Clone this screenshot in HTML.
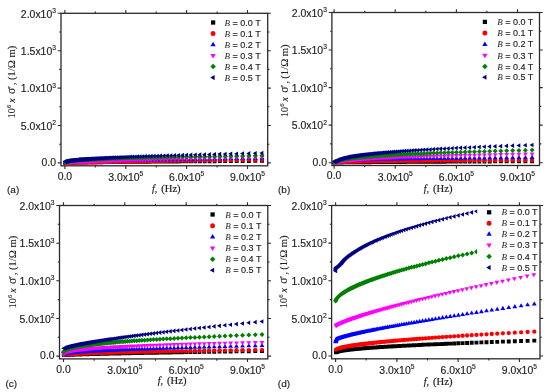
<!DOCTYPE html>
<html><head><meta charset="utf-8"><style>
html,body{margin:0;padding:0;background:#fff;}
svg{display:block;}
body{will-change:transform;}
</style></head><body>
<svg width="550" height="392" viewBox="0 0 550 392">
<rect width="550" height="392" fill="#fff"/>
<clipPath id="cpa"><rect x="61.0" y="13.3" width="206.7" height="152.5"/></clipPath>
<g clip-path="url(#cpa)"><path fill="#000000" d="M63.33 161.13h3.9v3.9h-3.9zM63.78 161.08h3.9v3.9h-3.9zM64.25 161.04h3.9v3.9h-3.9zM64.72 161.01h3.9v3.9h-3.9zM65.2 160.98h3.9v3.9h-3.9zM65.72 160.96h3.9v3.9h-3.9zM66.24 160.93h3.9v3.9h-3.9zM66.72 160.91h3.9v3.9h-3.9zM67.28 160.89h3.9v3.9h-3.9zM67.75 160.87h3.9v3.9h-3.9zM68.27 160.85h3.9v3.9h-3.9zM68.85 160.83h3.9v3.9h-3.9zM69.49 160.81h3.9v3.9h-3.9zM69.96 160.8h3.9v3.9h-3.9zM70.46 160.78h3.9v3.9h-3.9zM70.99 160.77h3.9v3.9h-3.9zM71.56 160.75h3.9v3.9h-3.9zM72.18 160.73h3.9v3.9h-3.9zM72.83 160.72h3.9v3.9h-3.9zM73.54 160.7h3.9v3.9h-3.9zM74.29 160.68h3.9v3.9h-3.9zM75.1 160.66h3.9v3.9h-3.9zM75.96 160.64h3.9v3.9h-3.9zM76.42 160.63h3.9v3.9h-3.9zM76.89 160.62h3.9v3.9h-3.9zM77.38 160.61h3.9v3.9h-3.9zM77.88 160.6h3.9v3.9h-3.9zM78.41 160.59h3.9v3.9h-3.9zM78.95 160.57h3.9v3.9h-3.9zM79.51 160.56h3.9v3.9h-3.9zM80.09 160.55h3.9v3.9h-3.9zM80.69 160.54h3.9v3.9h-3.9zM81.31 160.53h3.9v3.9h-3.9zM81.95 160.52h3.9v3.9h-3.9zM82.61 160.5h3.9v3.9h-3.9zM83.3 160.49h3.9v3.9h-3.9zM84.02 160.48h3.9v3.9h-3.9zM84.75 160.47h3.9v3.9h-3.9zM85.52 160.45h3.9v3.9h-3.9zM86.31 160.44h3.9v3.9h-3.9zM87.12 160.42h3.9v3.9h-3.9zM87.97 160.41h3.9v3.9h-3.9zM88.84 160.4h3.9v3.9h-3.9zM89.75 160.38h3.9v3.9h-3.9zM90.69 160.37h3.9v3.9h-3.9zM91.66 160.35h3.9v3.9h-3.9zM92.66 160.34h3.9v3.9h-3.9zM93.7 160.32h3.9v3.9h-3.9zM94.78 160.31h3.9v3.9h-3.9zM95.89 160.29h3.9v3.9h-3.9zM97.05 160.27h3.9v3.9h-3.9zM98.24 160.26h3.9v3.9h-3.9zM99.48 160.24h3.9v3.9h-3.9zM100.76 160.22h3.9v3.9h-3.9zM102.08 160.21h3.9v3.9h-3.9zM103.45 160.19h3.9v3.9h-3.9zM104.87 160.17h3.9v3.9h-3.9zM106.33 160.15h3.9v3.9h-3.9zM107.85 160.13h3.9v3.9h-3.9zM109.42 160.11h3.9v3.9h-3.9zM111.05 160.09h3.9v3.9h-3.9zM112.73 160.07h3.9v3.9h-3.9zM114.47 160.05h3.9v3.9h-3.9zM116.28 160.03h3.9v3.9h-3.9zM118.14 160.01h3.9v3.9h-3.9zM120.08 159.99h3.9v3.9h-3.9zM122.08 159.97h3.9v3.9h-3.9zM124.14 159.95h3.9v3.9h-3.9zM126.29 159.93h3.9v3.9h-3.9zM128.5 159.9h3.9v3.9h-3.9zM130.8 159.88h3.9v3.9h-3.9zM133.17 159.86h3.9v3.9h-3.9zM135.63 159.83h3.9v3.9h-3.9zM138.17 159.81h3.9v3.9h-3.9zM140.81 159.78h3.9v3.9h-3.9zM143.53 159.76h3.9v3.9h-3.9zM146.35 159.73h3.9v3.9h-3.9zM149.27 159.71h3.9v3.9h-3.9zM152.29 159.68h3.9v3.9h-3.9zM155.42 159.65h3.9v3.9h-3.9zM158.66 159.63h3.9v3.9h-3.9zM162.01 159.6h3.9v3.9h-3.9zM165.47 159.57h3.9v3.9h-3.9zM169.06 159.54h3.9v3.9h-3.9zM172.77 159.51h3.9v3.9h-3.9zM176.62 159.48h3.9v3.9h-3.9zM180.6 159.45h3.9v3.9h-3.9zM184.71 159.42h3.9v3.9h-3.9zM188.98 159.39h3.9v3.9h-3.9zM193.39 159.36h3.9v3.9h-3.9zM197.95 159.33h3.9v3.9h-3.9zM202.68 159.29h3.9v3.9h-3.9zM207.57 159.26h3.9v3.9h-3.9zM212.63 159.23h3.9v3.9h-3.9zM217.87 159.19h3.9v3.9h-3.9zM223.29 159.16h3.9v3.9h-3.9zM228.9 159.12h3.9v3.9h-3.9zM234.71 159.08h3.9v3.9h-3.9zM240.72 159.05h3.9v3.9h-3.9zM246.94 159.01h3.9v3.9h-3.9zM253.38 158.97h3.9v3.9h-3.9zM260.05 158.93h3.9v3.9h-3.9z"/>
<path fill="#ff0000" d="M63.13 163.04a2.15 2.15 0 1 0 4.3 0a2.15 2.15 0 1 0 -4.3 0zM63.58 163.02a2.15 2.15 0 1 0 4.3 0a2.15 2.15 0 1 0 -4.3 0zM64.05 163a2.15 2.15 0 1 0 4.3 0a2.15 2.15 0 1 0 -4.3 0zM64.52 162.98a2.15 2.15 0 1 0 4.3 0a2.15 2.15 0 1 0 -4.3 0zM65 162.96a2.15 2.15 0 1 0 4.3 0a2.15 2.15 0 1 0 -4.3 0zM65.52 162.94a2.15 2.15 0 1 0 4.3 0a2.15 2.15 0 1 0 -4.3 0zM66.04 162.92a2.15 2.15 0 1 0 4.3 0a2.15 2.15 0 1 0 -4.3 0zM66.52 162.9a2.15 2.15 0 1 0 4.3 0a2.15 2.15 0 1 0 -4.3 0zM67.08 162.88a2.15 2.15 0 1 0 4.3 0a2.15 2.15 0 1 0 -4.3 0zM67.55 162.87a2.15 2.15 0 1 0 4.3 0a2.15 2.15 0 1 0 -4.3 0zM68.07 162.85a2.15 2.15 0 1 0 4.3 0a2.15 2.15 0 1 0 -4.3 0zM68.65 162.84a2.15 2.15 0 1 0 4.3 0a2.15 2.15 0 1 0 -4.3 0zM69.29 162.82a2.15 2.15 0 1 0 4.3 0a2.15 2.15 0 1 0 -4.3 0zM69.76 162.8a2.15 2.15 0 1 0 4.3 0a2.15 2.15 0 1 0 -4.3 0zM70.26 162.79a2.15 2.15 0 1 0 4.3 0a2.15 2.15 0 1 0 -4.3 0zM70.79 162.77a2.15 2.15 0 1 0 4.3 0a2.15 2.15 0 1 0 -4.3 0zM71.36 162.76a2.15 2.15 0 1 0 4.3 0a2.15 2.15 0 1 0 -4.3 0zM71.98 162.74a2.15 2.15 0 1 0 4.3 0a2.15 2.15 0 1 0 -4.3 0zM72.63 162.72a2.15 2.15 0 1 0 4.3 0a2.15 2.15 0 1 0 -4.3 0zM73.34 162.71a2.15 2.15 0 1 0 4.3 0a2.15 2.15 0 1 0 -4.3 0zM74.09 162.69a2.15 2.15 0 1 0 4.3 0a2.15 2.15 0 1 0 -4.3 0zM74.9 162.67a2.15 2.15 0 1 0 4.3 0a2.15 2.15 0 1 0 -4.3 0zM75.76 162.64a2.15 2.15 0 1 0 4.3 0a2.15 2.15 0 1 0 -4.3 0zM76.22 162.63a2.15 2.15 0 1 0 4.3 0a2.15 2.15 0 1 0 -4.3 0zM76.69 162.62a2.15 2.15 0 1 0 4.3 0a2.15 2.15 0 1 0 -4.3 0zM77.18 162.61a2.15 2.15 0 1 0 4.3 0a2.15 2.15 0 1 0 -4.3 0zM77.68 162.6a2.15 2.15 0 1 0 4.3 0a2.15 2.15 0 1 0 -4.3 0zM78.21 162.58a2.15 2.15 0 1 0 4.3 0a2.15 2.15 0 1 0 -4.3 0zM78.75 162.57a2.15 2.15 0 1 0 4.3 0a2.15 2.15 0 1 0 -4.3 0zM79.31 162.56a2.15 2.15 0 1 0 4.3 0a2.15 2.15 0 1 0 -4.3 0zM79.89 162.55a2.15 2.15 0 1 0 4.3 0a2.15 2.15 0 1 0 -4.3 0zM80.49 162.53a2.15 2.15 0 1 0 4.3 0a2.15 2.15 0 1 0 -4.3 0zM81.11 162.52a2.15 2.15 0 1 0 4.3 0a2.15 2.15 0 1 0 -4.3 0zM81.75 162.5a2.15 2.15 0 1 0 4.3 0a2.15 2.15 0 1 0 -4.3 0zM82.41 162.49a2.15 2.15 0 1 0 4.3 0a2.15 2.15 0 1 0 -4.3 0zM83.1 162.47a2.15 2.15 0 1 0 4.3 0a2.15 2.15 0 1 0 -4.3 0zM83.82 162.46a2.15 2.15 0 1 0 4.3 0a2.15 2.15 0 1 0 -4.3 0zM84.55 162.44a2.15 2.15 0 1 0 4.3 0a2.15 2.15 0 1 0 -4.3 0zM85.32 162.42a2.15 2.15 0 1 0 4.3 0a2.15 2.15 0 1 0 -4.3 0zM86.11 162.41a2.15 2.15 0 1 0 4.3 0a2.15 2.15 0 1 0 -4.3 0zM86.92 162.39a2.15 2.15 0 1 0 4.3 0a2.15 2.15 0 1 0 -4.3 0zM87.77 162.37a2.15 2.15 0 1 0 4.3 0a2.15 2.15 0 1 0 -4.3 0zM88.64 162.35a2.15 2.15 0 1 0 4.3 0a2.15 2.15 0 1 0 -4.3 0zM89.55 162.34a2.15 2.15 0 1 0 4.3 0a2.15 2.15 0 1 0 -4.3 0zM90.49 162.32a2.15 2.15 0 1 0 4.3 0a2.15 2.15 0 1 0 -4.3 0zM91.46 162.3a2.15 2.15 0 1 0 4.3 0a2.15 2.15 0 1 0 -4.3 0zM92.46 162.28a2.15 2.15 0 1 0 4.3 0a2.15 2.15 0 1 0 -4.3 0zM93.5 162.26a2.15 2.15 0 1 0 4.3 0a2.15 2.15 0 1 0 -4.3 0zM94.58 162.23a2.15 2.15 0 1 0 4.3 0a2.15 2.15 0 1 0 -4.3 0zM95.69 162.21a2.15 2.15 0 1 0 4.3 0a2.15 2.15 0 1 0 -4.3 0zM96.85 162.19a2.15 2.15 0 1 0 4.3 0a2.15 2.15 0 1 0 -4.3 0zM98.04 162.17a2.15 2.15 0 1 0 4.3 0a2.15 2.15 0 1 0 -4.3 0zM99.28 162.14a2.15 2.15 0 1 0 4.3 0a2.15 2.15 0 1 0 -4.3 0zM100.56 162.12a2.15 2.15 0 1 0 4.3 0a2.15 2.15 0 1 0 -4.3 0zM101.88 162.09a2.15 2.15 0 1 0 4.3 0a2.15 2.15 0 1 0 -4.3 0zM103.25 162.07a2.15 2.15 0 1 0 4.3 0a2.15 2.15 0 1 0 -4.3 0zM104.67 162.04a2.15 2.15 0 1 0 4.3 0a2.15 2.15 0 1 0 -4.3 0zM106.13 162.02a2.15 2.15 0 1 0 4.3 0a2.15 2.15 0 1 0 -4.3 0zM107.65 161.99a2.15 2.15 0 1 0 4.3 0a2.15 2.15 0 1 0 -4.3 0zM109.22 161.96a2.15 2.15 0 1 0 4.3 0a2.15 2.15 0 1 0 -4.3 0zM110.85 161.93a2.15 2.15 0 1 0 4.3 0a2.15 2.15 0 1 0 -4.3 0zM112.53 161.9a2.15 2.15 0 1 0 4.3 0a2.15 2.15 0 1 0 -4.3 0zM114.27 161.87a2.15 2.15 0 1 0 4.3 0a2.15 2.15 0 1 0 -4.3 0zM116.08 161.84a2.15 2.15 0 1 0 4.3 0a2.15 2.15 0 1 0 -4.3 0zM117.94 161.81a2.15 2.15 0 1 0 4.3 0a2.15 2.15 0 1 0 -4.3 0zM119.88 161.77a2.15 2.15 0 1 0 4.3 0a2.15 2.15 0 1 0 -4.3 0zM121.88 161.74a2.15 2.15 0 1 0 4.3 0a2.15 2.15 0 1 0 -4.3 0zM123.94 161.71a2.15 2.15 0 1 0 4.3 0a2.15 2.15 0 1 0 -4.3 0zM126.09 161.67a2.15 2.15 0 1 0 4.3 0a2.15 2.15 0 1 0 -4.3 0zM128.3 161.63a2.15 2.15 0 1 0 4.3 0a2.15 2.15 0 1 0 -4.3 0zM130.6 161.6a2.15 2.15 0 1 0 4.3 0a2.15 2.15 0 1 0 -4.3 0zM132.97 161.56a2.15 2.15 0 1 0 4.3 0a2.15 2.15 0 1 0 -4.3 0zM135.43 161.52a2.15 2.15 0 1 0 4.3 0a2.15 2.15 0 1 0 -4.3 0zM137.97 161.48a2.15 2.15 0 1 0 4.3 0a2.15 2.15 0 1 0 -4.3 0zM140.61 161.44a2.15 2.15 0 1 0 4.3 0a2.15 2.15 0 1 0 -4.3 0zM143.33 161.39a2.15 2.15 0 1 0 4.3 0a2.15 2.15 0 1 0 -4.3 0zM146.15 161.35a2.15 2.15 0 1 0 4.3 0a2.15 2.15 0 1 0 -4.3 0zM149.07 161.31a2.15 2.15 0 1 0 4.3 0a2.15 2.15 0 1 0 -4.3 0zM152.09 161.26a2.15 2.15 0 1 0 4.3 0a2.15 2.15 0 1 0 -4.3 0zM155.22 161.21a2.15 2.15 0 1 0 4.3 0a2.15 2.15 0 1 0 -4.3 0zM158.46 161.16a2.15 2.15 0 1 0 4.3 0a2.15 2.15 0 1 0 -4.3 0zM161.81 161.11a2.15 2.15 0 1 0 4.3 0a2.15 2.15 0 1 0 -4.3 0zM165.27 161.06a2.15 2.15 0 1 0 4.3 0a2.15 2.15 0 1 0 -4.3 0zM168.86 161.01a2.15 2.15 0 1 0 4.3 0a2.15 2.15 0 1 0 -4.3 0zM172.57 160.96a2.15 2.15 0 1 0 4.3 0a2.15 2.15 0 1 0 -4.3 0zM176.42 160.9a2.15 2.15 0 1 0 4.3 0a2.15 2.15 0 1 0 -4.3 0zM180.4 160.84a2.15 2.15 0 1 0 4.3 0a2.15 2.15 0 1 0 -4.3 0zM184.51 160.79a2.15 2.15 0 1 0 4.3 0a2.15 2.15 0 1 0 -4.3 0zM188.78 160.73a2.15 2.15 0 1 0 4.3 0a2.15 2.15 0 1 0 -4.3 0zM193.19 160.67a2.15 2.15 0 1 0 4.3 0a2.15 2.15 0 1 0 -4.3 0zM197.75 160.6a2.15 2.15 0 1 0 4.3 0a2.15 2.15 0 1 0 -4.3 0zM202.48 160.54a2.15 2.15 0 1 0 4.3 0a2.15 2.15 0 1 0 -4.3 0zM207.37 160.47a2.15 2.15 0 1 0 4.3 0a2.15 2.15 0 1 0 -4.3 0zM212.43 160.4a2.15 2.15 0 1 0 4.3 0a2.15 2.15 0 1 0 -4.3 0zM217.67 160.33a2.15 2.15 0 1 0 4.3 0a2.15 2.15 0 1 0 -4.3 0zM223.09 160.26a2.15 2.15 0 1 0 4.3 0a2.15 2.15 0 1 0 -4.3 0zM228.7 160.19a2.15 2.15 0 1 0 4.3 0a2.15 2.15 0 1 0 -4.3 0zM234.51 160.11a2.15 2.15 0 1 0 4.3 0a2.15 2.15 0 1 0 -4.3 0zM240.52 160.04a2.15 2.15 0 1 0 4.3 0a2.15 2.15 0 1 0 -4.3 0zM246.74 159.96a2.15 2.15 0 1 0 4.3 0a2.15 2.15 0 1 0 -4.3 0zM253.18 159.88a2.15 2.15 0 1 0 4.3 0a2.15 2.15 0 1 0 -4.3 0zM259.85 159.79a2.15 2.15 0 1 0 4.3 0a2.15 2.15 0 1 0 -4.3 0z"/>
<path fill="#0000ff" d="M65.28 159.94l2.4 4.1h-4.8zM65.73 159.9l2.4 4.1h-4.8zM66.2 159.86l2.4 4.1h-4.8zM66.67 159.83l2.4 4.1h-4.8zM67.15 159.8l2.4 4.1h-4.8zM67.67 159.77l2.4 4.1h-4.8zM68.19 159.74l2.4 4.1h-4.8zM68.67 159.71l2.4 4.1h-4.8zM69.23 159.69l2.4 4.1h-4.8zM69.7 159.66l2.4 4.1h-4.8zM70.22 159.64l2.4 4.1h-4.8zM70.8 159.61l2.4 4.1h-4.8zM71.44 159.58l2.4 4.1h-4.8zM71.91 159.56l2.4 4.1h-4.8zM72.41 159.54l2.4 4.1h-4.8zM72.94 159.52l2.4 4.1h-4.8zM73.51 159.5l2.4 4.1h-4.8zM74.13 159.47l2.4 4.1h-4.8zM74.78 159.44l2.4 4.1h-4.8zM75.49 159.42l2.4 4.1h-4.8zM76.24 159.39l2.4 4.1h-4.8zM77.05 159.36l2.4 4.1h-4.8zM77.91 159.33l2.4 4.1h-4.8zM78.37 159.31l2.4 4.1h-4.8zM78.84 159.29l2.4 4.1h-4.8zM79.33 159.28l2.4 4.1h-4.8zM79.83 159.26l2.4 4.1h-4.8zM80.36 159.24l2.4 4.1h-4.8zM80.9 159.22l2.4 4.1h-4.8zM81.46 159.2l2.4 4.1h-4.8zM82.04 159.18l2.4 4.1h-4.8zM82.64 159.16l2.4 4.1h-4.8zM83.26 159.14l2.4 4.1h-4.8zM83.9 159.12l2.4 4.1h-4.8zM84.56 159.1l2.4 4.1h-4.8zM85.25 159.08l2.4 4.1h-4.8zM85.97 159.06l2.4 4.1h-4.8zM86.7 159.03l2.4 4.1h-4.8zM87.47 159.01l2.4 4.1h-4.8zM88.26 158.99l2.4 4.1h-4.8zM89.07 158.96l2.4 4.1h-4.8zM89.92 158.94l2.4 4.1h-4.8zM90.79 158.91l2.4 4.1h-4.8zM91.7 158.88l2.4 4.1h-4.8zM92.64 158.86l2.4 4.1h-4.8zM93.61 158.83l2.4 4.1h-4.8zM94.61 158.8l2.4 4.1h-4.8zM95.65 158.77l2.4 4.1h-4.8zM96.73 158.74l2.4 4.1h-4.8zM97.84 158.71l2.4 4.1h-4.8zM99 158.68l2.4 4.1h-4.8zM100.19 158.64l2.4 4.1h-4.8zM101.43 158.61l2.4 4.1h-4.8zM102.71 158.58l2.4 4.1h-4.8zM104.03 158.54l2.4 4.1h-4.8zM105.4 158.51l2.4 4.1h-4.8zM106.82 158.47l2.4 4.1h-4.8zM108.28 158.43l2.4 4.1h-4.8zM109.8 158.39l2.4 4.1h-4.8zM111.37 158.35l2.4 4.1h-4.8zM113 158.31l2.4 4.1h-4.8zM114.68 158.27l2.4 4.1h-4.8zM116.42 158.23l2.4 4.1h-4.8zM118.23 158.19l2.4 4.1h-4.8zM120.09 158.14l2.4 4.1h-4.8zM122.03 158.1l2.4 4.1h-4.8zM124.03 158.05l2.4 4.1h-4.8zM126.09 158l2.4 4.1h-4.8zM128.24 157.95l2.4 4.1h-4.8zM130.45 157.9l2.4 4.1h-4.8zM132.75 157.85l2.4 4.1h-4.8zM135.12 157.8l2.4 4.1h-4.8zM137.58 157.74l2.4 4.1h-4.8zM140.12 157.69l2.4 4.1h-4.8zM142.76 157.63l2.4 4.1h-4.8zM145.48 157.57l2.4 4.1h-4.8zM148.3 157.51l2.4 4.1h-4.8zM151.22 157.45l2.4 4.1h-4.8zM154.24 157.39l2.4 4.1h-4.8zM157.37 157.32l2.4 4.1h-4.8zM160.61 157.26l2.4 4.1h-4.8zM163.96 157.19l2.4 4.1h-4.8zM167.42 157.12l2.4 4.1h-4.8zM171.01 157.05l2.4 4.1h-4.8zM174.72 156.98l2.4 4.1h-4.8zM178.57 156.9l2.4 4.1h-4.8zM182.55 156.83l2.4 4.1h-4.8zM186.66 156.75l2.4 4.1h-4.8zM190.93 156.67l2.4 4.1h-4.8zM195.34 156.59l2.4 4.1h-4.8zM199.9 156.5l2.4 4.1h-4.8zM204.63 156.42l2.4 4.1h-4.8zM209.52 156.33l2.4 4.1h-4.8zM214.58 156.24l2.4 4.1h-4.8zM219.82 156.15l2.4 4.1h-4.8zM225.24 156.05l2.4 4.1h-4.8zM230.85 155.95l2.4 4.1h-4.8zM236.66 155.85l2.4 4.1h-4.8zM242.67 155.75l2.4 4.1h-4.8zM248.89 155.65l2.4 4.1h-4.8zM255.33 155.54l2.4 4.1h-4.8zM262 155.43l2.4 4.1h-4.8z"/>
<path fill="#ff00ff" d="M62.88 160.48h4.8l-2.4 4.1zM63.33 160.46h4.8l-2.4 4.1zM63.8 160.45h4.8l-2.4 4.1zM64.27 160.43h4.8l-2.4 4.1zM64.75 160.41h4.8l-2.4 4.1zM65.27 160.4h4.8l-2.4 4.1zM65.79 160.38h4.8l-2.4 4.1zM66.27 160.37h4.8l-2.4 4.1zM66.83 160.35h4.8l-2.4 4.1zM67.3 160.33h4.8l-2.4 4.1zM67.82 160.32h4.8l-2.4 4.1zM68.4 160.3h4.8l-2.4 4.1zM69.04 160.28h4.8l-2.4 4.1zM69.51 160.27h4.8l-2.4 4.1zM70.01 160.25h4.8l-2.4 4.1zM70.54 160.24h4.8l-2.4 4.1zM71.11 160.22h4.8l-2.4 4.1zM71.73 160.2h4.8l-2.4 4.1zM72.38 160.18h4.8l-2.4 4.1zM73.09 160.16h4.8l-2.4 4.1zM73.84 160.14h4.8l-2.4 4.1zM74.65 160.12h4.8l-2.4 4.1zM75.51 160.09h4.8l-2.4 4.1zM75.97 160.08h4.8l-2.4 4.1zM76.44 160.07h4.8l-2.4 4.1zM76.93 160.05h4.8l-2.4 4.1zM77.43 160.04h4.8l-2.4 4.1zM77.96 160.03h4.8l-2.4 4.1zM78.5 160.01h4.8l-2.4 4.1zM79.06 159.99h4.8l-2.4 4.1zM79.64 159.98h4.8l-2.4 4.1zM80.24 159.96h4.8l-2.4 4.1zM80.86 159.94h4.8l-2.4 4.1zM81.5 159.93h4.8l-2.4 4.1zM82.16 159.91h4.8l-2.4 4.1zM82.85 159.89h4.8l-2.4 4.1zM83.57 159.87h4.8l-2.4 4.1zM84.3 159.85h4.8l-2.4 4.1zM85.07 159.83h4.8l-2.4 4.1zM85.86 159.81h4.8l-2.4 4.1zM86.67 159.79h4.8l-2.4 4.1zM87.52 159.76h4.8l-2.4 4.1zM88.39 159.74h4.8l-2.4 4.1zM89.3 159.72h4.8l-2.4 4.1zM90.24 159.69h4.8l-2.4 4.1zM91.21 159.67h4.8l-2.4 4.1zM92.21 159.64h4.8l-2.4 4.1zM93.25 159.61h4.8l-2.4 4.1zM94.33 159.58h4.8l-2.4 4.1zM95.44 159.55h4.8l-2.4 4.1zM96.6 159.52h4.8l-2.4 4.1zM97.79 159.49h4.8l-2.4 4.1zM99.03 159.46h4.8l-2.4 4.1zM100.31 159.43h4.8l-2.4 4.1zM101.63 159.39h4.8l-2.4 4.1zM103 159.36h4.8l-2.4 4.1zM104.42 159.32h4.8l-2.4 4.1zM105.88 159.28h4.8l-2.4 4.1zM107.4 159.24h4.8l-2.4 4.1zM108.97 159.2h4.8l-2.4 4.1zM110.6 159.16h4.8l-2.4 4.1zM112.28 159.12h4.8l-2.4 4.1zM114.02 159.08h4.8l-2.4 4.1zM115.83 159.03h4.8l-2.4 4.1zM117.69 158.98h4.8l-2.4 4.1zM119.63 158.94h4.8l-2.4 4.1zM121.63 158.88h4.8l-2.4 4.1zM123.69 158.83h4.8l-2.4 4.1zM125.84 158.78h4.8l-2.4 4.1zM128.05 158.73h4.8l-2.4 4.1zM130.35 158.67h4.8l-2.4 4.1zM132.72 158.61h4.8l-2.4 4.1zM135.18 158.55h4.8l-2.4 4.1zM137.72 158.49h4.8l-2.4 4.1zM140.36 158.42h4.8l-2.4 4.1zM143.08 158.36h4.8l-2.4 4.1zM145.9 158.29h4.8l-2.4 4.1zM148.82 158.22h4.8l-2.4 4.1zM151.84 158.14h4.8l-2.4 4.1zM154.97 158.07h4.8l-2.4 4.1zM158.21 157.99h4.8l-2.4 4.1zM161.56 157.91h4.8l-2.4 4.1zM165.02 157.83h4.8l-2.4 4.1zM168.61 157.74h4.8l-2.4 4.1zM172.32 157.65h4.8l-2.4 4.1zM176.17 157.56h4.8l-2.4 4.1zM180.15 157.47h4.8l-2.4 4.1zM184.26 157.37h4.8l-2.4 4.1zM188.53 157.27h4.8l-2.4 4.1zM192.94 157.17h4.8l-2.4 4.1zM197.5 157.06h4.8l-2.4 4.1zM202.23 156.95h4.8l-2.4 4.1zM207.12 156.84h4.8l-2.4 4.1zM212.18 156.72h4.8l-2.4 4.1zM217.42 156.6h4.8l-2.4 4.1zM222.84 156.47h4.8l-2.4 4.1zM228.45 156.34h4.8l-2.4 4.1zM234.26 156.21h4.8l-2.4 4.1zM240.27 156.07h4.8l-2.4 4.1zM246.49 155.93h4.8l-2.4 4.1zM252.93 155.78h4.8l-2.4 4.1zM259.6 155.63h4.8l-2.4 4.1z"/>
<path fill="#008000" d="M65.28 159.5l2.5 2.5-2.5 2.5-2.5-2.5zM65.73 159.4l2.5 2.5-2.5 2.5-2.5-2.5zM66.2 159.23l2.5 2.5-2.5 2.5-2.5-2.5zM66.67 159.09l2.5 2.5-2.5 2.5-2.5-2.5zM67.15 158.97l2.5 2.5-2.5 2.5-2.5-2.5zM67.67 158.86l2.5 2.5-2.5 2.5-2.5-2.5zM68.19 158.76l2.5 2.5-2.5 2.5-2.5-2.5zM68.67 158.68l2.5 2.5-2.5 2.5-2.5-2.5zM69.23 158.59l2.5 2.5-2.5 2.5-2.5-2.5zM69.7 158.53l2.5 2.5-2.5 2.5-2.5-2.5zM70.22 158.45l2.5 2.5-2.5 2.5-2.5-2.5zM70.8 158.38l2.5 2.5-2.5 2.5-2.5-2.5zM71.44 158.3l2.5 2.5-2.5 2.5-2.5-2.5zM71.91 158.25l2.5 2.5-2.5 2.5-2.5-2.5zM72.41 158.2l2.5 2.5-2.5 2.5-2.5-2.5zM72.94 158.14l2.5 2.5-2.5 2.5-2.5-2.5zM73.51 158.08l2.5 2.5-2.5 2.5-2.5-2.5zM74.13 158.02l2.5 2.5-2.5 2.5-2.5-2.5zM74.78 157.96l2.5 2.5-2.5 2.5-2.5-2.5zM75.49 157.9l2.5 2.5-2.5 2.5-2.5-2.5zM76.24 157.84l2.5 2.5-2.5 2.5-2.5-2.5zM77.05 157.77l2.5 2.5-2.5 2.5-2.5-2.5zM77.91 157.71l2.5 2.5-2.5 2.5-2.5-2.5zM78.37 157.67l2.5 2.5-2.5 2.5-2.5-2.5zM78.84 157.64l2.5 2.5-2.5 2.5-2.5-2.5zM79.33 157.6l2.5 2.5-2.5 2.5-2.5-2.5zM79.83 157.57l2.5 2.5-2.5 2.5-2.5-2.5zM80.36 157.53l2.5 2.5-2.5 2.5-2.5-2.5zM80.9 157.5l2.5 2.5-2.5 2.5-2.5-2.5zM81.46 157.46l2.5 2.5-2.5 2.5-2.5-2.5zM82.04 157.42l2.5 2.5-2.5 2.5-2.5-2.5zM82.64 157.39l2.5 2.5-2.5 2.5-2.5-2.5zM83.26 157.35l2.5 2.5-2.5 2.5-2.5-2.5zM83.9 157.31l2.5 2.5-2.5 2.5-2.5-2.5zM84.56 157.27l2.5 2.5-2.5 2.5-2.5-2.5zM85.25 157.23l2.5 2.5-2.5 2.5-2.5-2.5zM85.97 157.19l2.5 2.5-2.5 2.5-2.5-2.5zM86.7 157.15l2.5 2.5-2.5 2.5-2.5-2.5zM87.47 157.11l2.5 2.5-2.5 2.5-2.5-2.5zM88.26 157.07l2.5 2.5-2.5 2.5-2.5-2.5zM89.07 157.03l2.5 2.5-2.5 2.5-2.5-2.5zM89.92 156.98l2.5 2.5-2.5 2.5-2.5-2.5zM90.79 156.94l2.5 2.5-2.5 2.5-2.5-2.5zM91.7 156.9l2.5 2.5-2.5 2.5-2.5-2.5zM92.64 156.85l2.5 2.5-2.5 2.5-2.5-2.5zM93.61 156.81l2.5 2.5-2.5 2.5-2.5-2.5zM94.61 156.76l2.5 2.5-2.5 2.5-2.5-2.5zM95.65 156.71l2.5 2.5-2.5 2.5-2.5-2.5zM96.73 156.67l2.5 2.5-2.5 2.5-2.5-2.5zM97.84 156.62l2.5 2.5-2.5 2.5-2.5-2.5zM99 156.57l2.5 2.5-2.5 2.5-2.5-2.5zM100.19 156.52l2.5 2.5-2.5 2.5-2.5-2.5zM101.43 156.48l2.5 2.5-2.5 2.5-2.5-2.5zM102.71 156.43l2.5 2.5-2.5 2.5-2.5-2.5zM104.03 156.38l2.5 2.5-2.5 2.5-2.5-2.5zM105.4 156.32l2.5 2.5-2.5 2.5-2.5-2.5zM106.82 156.27l2.5 2.5-2.5 2.5-2.5-2.5zM108.28 156.22l2.5 2.5-2.5 2.5-2.5-2.5zM109.8 156.17l2.5 2.5-2.5 2.5-2.5-2.5zM111.37 156.11l2.5 2.5-2.5 2.5-2.5-2.5zM113 156.06l2.5 2.5-2.5 2.5-2.5-2.5zM114.68 156l2.5 2.5-2.5 2.5-2.5-2.5zM116.42 155.95l2.5 2.5-2.5 2.5-2.5-2.5zM118.23 155.89l2.5 2.5-2.5 2.5-2.5-2.5zM120.09 155.84l2.5 2.5-2.5 2.5-2.5-2.5zM122.03 155.78l2.5 2.5-2.5 2.5-2.5-2.5zM124.03 155.72l2.5 2.5-2.5 2.5-2.5-2.5zM126.09 155.66l2.5 2.5-2.5 2.5-2.5-2.5zM128.24 155.6l2.5 2.5-2.5 2.5-2.5-2.5zM130.45 155.54l2.5 2.5-2.5 2.5-2.5-2.5zM132.75 155.48l2.5 2.5-2.5 2.5-2.5-2.5zM135.12 155.41l2.5 2.5-2.5 2.5-2.5-2.5zM137.58 155.35l2.5 2.5-2.5 2.5-2.5-2.5zM140.12 155.29l2.5 2.5-2.5 2.5-2.5-2.5zM142.76 155.22l2.5 2.5-2.5 2.5-2.5-2.5zM145.48 155.16l2.5 2.5-2.5 2.5-2.5-2.5zM148.3 155.09l2.5 2.5-2.5 2.5-2.5-2.5zM151.22 155.02l2.5 2.5-2.5 2.5-2.5-2.5zM154.24 154.95l2.5 2.5-2.5 2.5-2.5-2.5zM157.37 154.88l2.5 2.5-2.5 2.5-2.5-2.5zM160.61 154.81l2.5 2.5-2.5 2.5-2.5-2.5zM163.96 154.74l2.5 2.5-2.5 2.5-2.5-2.5zM167.42 154.67l2.5 2.5-2.5 2.5-2.5-2.5zM171.01 154.6l2.5 2.5-2.5 2.5-2.5-2.5zM174.72 154.52l2.5 2.5-2.5 2.5-2.5-2.5zM178.57 154.45l2.5 2.5-2.5 2.5-2.5-2.5zM182.55 154.37l2.5 2.5-2.5 2.5-2.5-2.5zM186.66 154.3l2.5 2.5-2.5 2.5-2.5-2.5zM190.93 154.22l2.5 2.5-2.5 2.5-2.5-2.5zM195.34 154.14l2.5 2.5-2.5 2.5-2.5-2.5zM199.9 154.06l2.5 2.5-2.5 2.5-2.5-2.5zM204.63 153.98l2.5 2.5-2.5 2.5-2.5-2.5zM209.52 153.9l2.5 2.5-2.5 2.5-2.5-2.5zM214.58 153.82l2.5 2.5-2.5 2.5-2.5-2.5zM219.82 153.73l2.5 2.5-2.5 2.5-2.5-2.5zM225.24 153.65l2.5 2.5-2.5 2.5-2.5-2.5zM230.85 153.56l2.5 2.5-2.5 2.5-2.5-2.5zM236.66 153.48l2.5 2.5-2.5 2.5-2.5-2.5zM242.67 153.39l2.5 2.5-2.5 2.5-2.5-2.5zM248.89 153.3l2.5 2.5-2.5 2.5-2.5-2.5zM255.33 153.21l2.5 2.5-2.5 2.5-2.5-2.5zM262 153.12l2.5 2.5-2.5 2.5-2.5-2.5z"/>
<path fill="#000080" d="M62.68 161.6l4-2.3v4.6zM63.13 161.6l4-2.3v4.6zM63.6 161.52l4-2.3v4.6zM64.07 161.39l4-2.3v4.6zM64.55 161.27l4-2.3v4.6zM65.07 161.16l4-2.3v4.6zM65.59 161.06l4-2.3v4.6zM66.07 160.97l4-2.3v4.6zM66.63 160.88l4-2.3v4.6zM67.1 160.8l4-2.3v4.6zM67.62 160.73l4-2.3v4.6zM68.2 160.64l4-2.3v4.6zM68.84 160.56l4-2.3v4.6zM69.31 160.5l4-2.3v4.6zM69.81 160.43l4-2.3v4.6zM70.34 160.37l4-2.3v4.6zM70.91 160.3l4-2.3v4.6zM71.53 160.24l4-2.3v4.6zM72.18 160.16l4-2.3v4.6zM72.89 160.09l4-2.3v4.6zM73.64 160.02l4-2.3v4.6zM74.45 159.94l4-2.3v4.6zM75.31 159.86l4-2.3v4.6zM75.77 159.81l4-2.3v4.6zM76.24 159.77l4-2.3v4.6zM76.73 159.73l4-2.3v4.6zM77.23 159.68l4-2.3v4.6zM77.76 159.64l4-2.3v4.6zM78.3 159.6l4-2.3v4.6zM78.86 159.55l4-2.3v4.6zM79.44 159.5l4-2.3v4.6zM80.04 159.46l4-2.3v4.6zM80.66 159.41l4-2.3v4.6zM81.3 159.36l4-2.3v4.6zM81.96 159.31l4-2.3v4.6zM82.65 159.26l4-2.3v4.6zM83.37 159.21l4-2.3v4.6zM84.1 159.15l4-2.3v4.6zM84.87 159.1l4-2.3v4.6zM85.66 159.05l4-2.3v4.6zM86.47 158.99l4-2.3v4.6zM87.32 158.93l4-2.3v4.6zM88.19 158.88l4-2.3v4.6zM89.1 158.82l4-2.3v4.6zM90.04 158.76l4-2.3v4.6zM91.01 158.7l4-2.3v4.6zM92.01 158.64l4-2.3v4.6zM93.05 158.58l4-2.3v4.6zM94.13 158.51l4-2.3v4.6zM95.24 158.45l4-2.3v4.6zM96.4 158.38l4-2.3v4.6zM97.59 158.32l4-2.3v4.6zM98.83 158.25l4-2.3v4.6zM100.11 158.18l4-2.3v4.6zM101.43 158.11l4-2.3v4.6zM102.8 158.04l4-2.3v4.6zM104.22 157.97l4-2.3v4.6zM105.68 157.9l4-2.3v4.6zM107.2 157.82l4-2.3v4.6zM108.77 157.75l4-2.3v4.6zM110.4 157.67l4-2.3v4.6zM112.08 157.59l4-2.3v4.6zM113.82 157.51l4-2.3v4.6zM115.63 157.43l4-2.3v4.6zM117.49 157.35l4-2.3v4.6zM119.43 157.26l4-2.3v4.6zM121.43 157.18l4-2.3v4.6zM123.49 157.09l4-2.3v4.6zM125.64 157l4-2.3v4.6zM127.85 156.92l4-2.3v4.6zM130.15 156.82l4-2.3v4.6zM132.52 156.73l4-2.3v4.6zM134.98 156.64l4-2.3v4.6zM137.52 156.54l4-2.3v4.6zM140.16 156.44l4-2.3v4.6zM142.88 156.35l4-2.3v4.6zM145.7 156.25l4-2.3v4.6zM148.62 156.14l4-2.3v4.6zM151.64 156.04l4-2.3v4.6zM154.77 155.93l4-2.3v4.6zM158.01 155.83l4-2.3v4.6zM161.36 155.72l4-2.3v4.6zM164.82 155.61l4-2.3v4.6zM168.41 155.49l4-2.3v4.6zM172.12 155.38l4-2.3v4.6zM175.97 155.26l4-2.3v4.6zM179.95 155.14l4-2.3v4.6zM184.06 155.02l4-2.3v4.6zM188.33 154.9l4-2.3v4.6zM192.74 154.77l4-2.3v4.6zM197.3 154.65l4-2.3v4.6zM202.03 154.52l4-2.3v4.6zM206.92 154.39l4-2.3v4.6zM211.98 154.25l4-2.3v4.6zM217.22 154.12l4-2.3v4.6zM222.64 153.98l4-2.3v4.6zM228.25 153.84l4-2.3v4.6zM234.06 153.7l4-2.3v4.6zM240.07 153.55l4-2.3v4.6zM246.29 153.4l4-2.3v4.6zM252.73 153.25l4-2.3v4.6zM259.4 153.1l4-2.3v4.6z"/></g>
<rect x="61.0" y="13.3" width="206.7" height="152.5" fill="none" stroke="#2a2a2a" stroke-width="1.3"/>
<path d="M64.9 165.8v3.2M64.9 13.3v-3.2M125.8 165.8v3.2M125.8 13.3v-3.2M186.6 165.8v3.2M186.6 13.3v-3.2M247.5 165.8v3.2M247.5 13.3v-3.2M95.3 165.8v1.8M95.3 13.3v-1.8M156.2 165.8v1.8M156.2 13.3v-1.8M217.1 165.8v1.8M217.1 13.3v-1.8M61.0 162.9h-3.2M267.6 162.9h3.2M61.0 125.5h-3.2M267.6 125.5h3.2M61.0 88.1h-3.2M267.6 88.1h3.2M61.0 50.7h-3.2M267.6 50.7h3.2M61.0 13.3h-3.2M267.6 13.3h3.2M61.0 144.2h-1.8M267.6 144.2h1.8M61.0 106.8h-1.8M267.6 106.8h1.8M61.0 69.4h-1.8M267.6 69.4h1.8M61.0 32.0h-1.8M267.6 32.0h1.8" stroke="#2a2a2a" stroke-width="1.1" fill="none"/>
<g font-family='"Liberation Sans", sans-serif' font-size="10" fill="#1e1e1e" stroke="#1e1e1e" stroke-width="0.15"><text transform="translate(56.05 166.15) scale(1.045 1)" text-anchor="end">0.0</text><text transform="translate(55.95 129.74) scale(1.045 1)" text-anchor="end">5.0x10<tspan dy="-4.8" font-size="6.4">2</tspan></text><text transform="translate(55.95 92.33) scale(1.045 1)" text-anchor="end">1.0x10<tspan dy="-4.8" font-size="6.4">3</tspan></text><text transform="translate(55.95 54.91) scale(1.045 1)" text-anchor="end">1.5x10<tspan dy="-4.8" font-size="6.4">3</tspan></text><text transform="translate(55.95 17.50) scale(1.045 1)" text-anchor="end">2.0x10<tspan dy="-4.8" font-size="6.4">3</tspan></text><text transform="translate(64.90 179.50) scale(1.045 1)" text-anchor="middle">0.0</text><text transform="translate(125.77 181.10) scale(1.045 1)" text-anchor="middle">3.0x10<tspan dy="-4.8" font-size="6.4">5</tspan></text><text transform="translate(186.63 181.10) scale(1.045 1)" text-anchor="middle">6.0x10<tspan dy="-4.8" font-size="6.4">5</tspan></text><text transform="translate(247.50 181.10) scale(1.045 1)" text-anchor="middle">9.0x10<tspan dy="-4.8" font-size="6.4">5</tspan></text></g>
<g font-family='"Liberation Sans", sans-serif' font-size="9.6" fill="#1e1e1e" stroke="#1e1e1e" stroke-width="0.15"><text transform="translate(7.00 193.20) scale(1.045 1)" text-anchor="start">(a)</text></g>
<g font-family='"Liberation Serif", serif' font-size="10" fill="#1e1e1e" stroke="#1e1e1e" stroke-width="0.2"><text transform="translate(152.00 192.40) scale(1.000 1)" text-anchor="start"><tspan font-style="italic">f</tspan>,<tspan dx="1.3" font-size="10.6"> (Hz)</tspan></text></g>
<g transform="translate(15.4 118.3) rotate(-90)" font-family='"Liberation Serif", serif' font-size="10" fill="#1e1e1e" stroke="#1e1e1e" stroke-width="0.1"><text x="0" y="0">10</text><text x="10.2" y="-4.0" font-size="6.6">6</text><text x="15.5" y="0" font-style="italic">x</text><text x="24.2" y="0" font-size="11.5">&#963;</text><text x="30.0" y="0">&#8242;</text><text x="33.4" y="0">,</text><text x="38.2" y="0" textLength="34.4" lengthAdjust="spacingAndGlyphs">(1/&#937; m)</text></g>
<g font-family='"Liberation Sans", sans-serif' font-size="9" fill="#1e1e1e" stroke="#1e1e1e" stroke-width="0.15"><path fill="#000000" stroke="none" d="M210.95 20.36h4.29v4.29h-4.29z"/><text transform="translate(224.60 25.60) scale(1.000 1)" text-anchor="start"><tspan font-family='"Liberation Serif", serif' font-style="italic" font-size="9.0" stroke="none">B</tspan> = 0.0 T</text><path fill="#ff0000" stroke="none" d="M210.73 33.5a2.37 2.37 0 1 0 4.73 0a2.37 2.37 0 1 0 -4.73 0z"/><text transform="translate(224.60 36.60) scale(1.000 1)" text-anchor="start"><tspan font-family='"Liberation Serif", serif' font-style="italic" font-size="9.0" stroke="none">B</tspan> = 0.1 T</text><path fill="#0000ff" stroke="none" d="M213.1 41.74l2.64 4.51h-5.28z"/><text transform="translate(224.60 47.70) scale(1.000 1)" text-anchor="start"><tspan font-family='"Liberation Serif", serif' font-style="italic" font-size="9.0" stroke="none">B</tspan> = 0.2 T</text><path fill="#ff00ff" stroke="none" d="M210.46 53.95h5.28l-2.64 4.51z"/><text transform="translate(224.60 58.70) scale(1.000 1)" text-anchor="start"><tspan font-family='"Liberation Serif", serif' font-style="italic" font-size="9.0" stroke="none">B</tspan> = 0.3 T</text><path fill="#008000" stroke="none" d="M213.1 63.85l2.75 2.75-2.75 2.75-2.75-2.75z"/><text transform="translate(224.60 69.70) scale(1.000 1)" text-anchor="start"><tspan font-family='"Liberation Serif", serif' font-style="italic" font-size="9.0" stroke="none">B</tspan> = 0.4 T</text><path fill="#000080" stroke="none" d="M210.24 77.6l4.4-2.53v5.06z"/><text transform="translate(224.60 80.70) scale(1.000 1)" text-anchor="start"><tspan font-family='"Liberation Serif", serif' font-style="italic" font-size="9.0" stroke="none">B</tspan> = 0.5 T</text></g>
<clipPath id="cpb"><rect x="331.9" y="12.5" width="207.6" height="153.0"/></clipPath>
<g clip-path="url(#cpb)"><path fill="#000000" d="M332.53 160.58h3.9v3.9h-3.9zM332.98 160.57h3.9v3.9h-3.9zM333.45 160.56h3.9v3.9h-3.9zM333.93 160.55h3.9v3.9h-3.9zM334.41 160.54h3.9v3.9h-3.9zM334.93 160.54h3.9v3.9h-3.9zM335.45 160.53h3.9v3.9h-3.9zM335.94 160.52h3.9v3.9h-3.9zM336.5 160.52h3.9v3.9h-3.9zM336.97 160.51h3.9v3.9h-3.9zM337.49 160.51h3.9v3.9h-3.9zM338.08 160.5h3.9v3.9h-3.9zM338.72 160.49h3.9v3.9h-3.9zM339.19 160.49h3.9v3.9h-3.9zM339.69 160.48h3.9v3.9h-3.9zM340.23 160.47h3.9v3.9h-3.9zM340.8 160.47h3.9v3.9h-3.9zM341.42 160.46h3.9v3.9h-3.9zM342.08 160.45h3.9v3.9h-3.9zM342.78 160.45h3.9v3.9h-3.9zM343.54 160.44h3.9v3.9h-3.9zM344.35 160.43h3.9v3.9h-3.9zM345.22 160.42h3.9v3.9h-3.9zM345.68 160.42h3.9v3.9h-3.9zM346.15 160.41h3.9v3.9h-3.9zM346.64 160.41h3.9v3.9h-3.9zM347.15 160.41h3.9v3.9h-3.9zM347.68 160.4h3.9v3.9h-3.9zM348.22 160.4h3.9v3.9h-3.9zM348.78 160.39h3.9v3.9h-3.9zM349.36 160.38h3.9v3.9h-3.9zM349.97 160.38h3.9v3.9h-3.9zM350.59 160.37h3.9v3.9h-3.9zM351.24 160.37h3.9v3.9h-3.9zM351.9 160.36h3.9v3.9h-3.9zM352.6 160.36h3.9v3.9h-3.9zM353.31 160.35h3.9v3.9h-3.9zM354.05 160.34h3.9v3.9h-3.9zM354.82 160.34h3.9v3.9h-3.9zM355.61 160.33h3.9v3.9h-3.9zM356.43 160.32h3.9v3.9h-3.9zM357.28 160.32h3.9v3.9h-3.9zM358.16 160.31h3.9v3.9h-3.9zM359.07 160.3h3.9v3.9h-3.9zM360.02 160.29h3.9v3.9h-3.9zM360.99 160.29h3.9v3.9h-3.9zM362 160.28h3.9v3.9h-3.9zM363.04 160.27h3.9v3.9h-3.9zM364.13 160.26h3.9v3.9h-3.9zM365.25 160.25h3.9v3.9h-3.9zM366.4 160.24h3.9v3.9h-3.9zM367.6 160.23h3.9v3.9h-3.9zM368.84 160.22h3.9v3.9h-3.9zM370.13 160.21h3.9v3.9h-3.9zM371.46 160.2h3.9v3.9h-3.9zM372.83 160.19h3.9v3.9h-3.9zM374.26 160.18h3.9v3.9h-3.9zM375.73 160.17h3.9v3.9h-3.9zM377.26 160.16h3.9v3.9h-3.9zM378.83 160.15h3.9v3.9h-3.9zM380.47 160.14h3.9v3.9h-3.9zM382.16 160.13h3.9v3.9h-3.9zM383.91 160.11h3.9v3.9h-3.9zM385.72 160.1h3.9v3.9h-3.9zM387.6 160.09h3.9v3.9h-3.9zM389.54 160.07h3.9v3.9h-3.9zM391.55 160.06h3.9v3.9h-3.9zM393.62 160.05h3.9v3.9h-3.9zM395.78 160.03h3.9v3.9h-3.9zM398 160.02h3.9v3.9h-3.9zM400.31 160h3.9v3.9h-3.9zM402.69 159.99h3.9v3.9h-3.9zM405.16 159.97h3.9v3.9h-3.9zM407.72 159.95h3.9v3.9h-3.9zM410.36 159.94h3.9v3.9h-3.9zM413.1 159.92h3.9v3.9h-3.9zM415.93 159.9h3.9v3.9h-3.9zM418.87 159.88h3.9v3.9h-3.9zM421.9 159.86h3.9v3.9h-3.9zM425.04 159.84h3.9v3.9h-3.9zM428.29 159.82h3.9v3.9h-3.9zM431.66 159.8h3.9v3.9h-3.9zM435.14 159.78h3.9v3.9h-3.9zM438.75 159.76h3.9v3.9h-3.9zM442.48 159.74h3.9v3.9h-3.9zM446.34 159.71h3.9v3.9h-3.9zM450.33 159.69h3.9v3.9h-3.9zM454.47 159.67h3.9v3.9h-3.9zM458.75 159.64h3.9v3.9h-3.9zM463.18 159.62h3.9v3.9h-3.9zM467.77 159.59h3.9v3.9h-3.9zM472.52 159.56h3.9v3.9h-3.9zM477.43 159.53h3.9v3.9h-3.9zM482.51 159.51h3.9v3.9h-3.9zM487.78 159.48h3.9v3.9h-3.9zM493.22 159.45h3.9v3.9h-3.9zM498.86 159.42h3.9v3.9h-3.9zM504.7 159.38h3.9v3.9h-3.9zM510.73 159.35h3.9v3.9h-3.9zM516.99 159.32h3.9v3.9h-3.9zM523.45 159.28h3.9v3.9h-3.9zM530.15 159.25h3.9v3.9h-3.9z"/>
<path fill="#ff0000" d="M332.33 162.56a2.15 2.15 0 1 0 4.3 0a2.15 2.15 0 1 0 -4.3 0zM332.78 162.43a2.15 2.15 0 1 0 4.3 0a2.15 2.15 0 1 0 -4.3 0zM333.25 162.35a2.15 2.15 0 1 0 4.3 0a2.15 2.15 0 1 0 -4.3 0zM333.73 162.28a2.15 2.15 0 1 0 4.3 0a2.15 2.15 0 1 0 -4.3 0zM334.21 162.23a2.15 2.15 0 1 0 4.3 0a2.15 2.15 0 1 0 -4.3 0zM334.73 162.18a2.15 2.15 0 1 0 4.3 0a2.15 2.15 0 1 0 -4.3 0zM335.25 162.14a2.15 2.15 0 1 0 4.3 0a2.15 2.15 0 1 0 -4.3 0zM335.74 162.1a2.15 2.15 0 1 0 4.3 0a2.15 2.15 0 1 0 -4.3 0zM336.3 162.06a2.15 2.15 0 1 0 4.3 0a2.15 2.15 0 1 0 -4.3 0zM336.77 162.04a2.15 2.15 0 1 0 4.3 0a2.15 2.15 0 1 0 -4.3 0zM337.29 162.01a2.15 2.15 0 1 0 4.3 0a2.15 2.15 0 1 0 -4.3 0zM337.88 161.98a2.15 2.15 0 1 0 4.3 0a2.15 2.15 0 1 0 -4.3 0zM338.52 161.95a2.15 2.15 0 1 0 4.3 0a2.15 2.15 0 1 0 -4.3 0zM338.99 161.93a2.15 2.15 0 1 0 4.3 0a2.15 2.15 0 1 0 -4.3 0zM339.49 161.9a2.15 2.15 0 1 0 4.3 0a2.15 2.15 0 1 0 -4.3 0zM340.03 161.88a2.15 2.15 0 1 0 4.3 0a2.15 2.15 0 1 0 -4.3 0zM340.6 161.86a2.15 2.15 0 1 0 4.3 0a2.15 2.15 0 1 0 -4.3 0zM341.22 161.84a2.15 2.15 0 1 0 4.3 0a2.15 2.15 0 1 0 -4.3 0zM341.88 161.82a2.15 2.15 0 1 0 4.3 0a2.15 2.15 0 1 0 -4.3 0zM342.58 161.79a2.15 2.15 0 1 0 4.3 0a2.15 2.15 0 1 0 -4.3 0zM343.34 161.77a2.15 2.15 0 1 0 4.3 0a2.15 2.15 0 1 0 -4.3 0zM344.15 161.75a2.15 2.15 0 1 0 4.3 0a2.15 2.15 0 1 0 -4.3 0zM345.02 161.72a2.15 2.15 0 1 0 4.3 0a2.15 2.15 0 1 0 -4.3 0zM345.48 161.71a2.15 2.15 0 1 0 4.3 0a2.15 2.15 0 1 0 -4.3 0zM345.95 161.7a2.15 2.15 0 1 0 4.3 0a2.15 2.15 0 1 0 -4.3 0zM346.44 161.68a2.15 2.15 0 1 0 4.3 0a2.15 2.15 0 1 0 -4.3 0zM346.95 161.67a2.15 2.15 0 1 0 4.3 0a2.15 2.15 0 1 0 -4.3 0zM347.48 161.66a2.15 2.15 0 1 0 4.3 0a2.15 2.15 0 1 0 -4.3 0zM348.02 161.65a2.15 2.15 0 1 0 4.3 0a2.15 2.15 0 1 0 -4.3 0zM348.58 161.63a2.15 2.15 0 1 0 4.3 0a2.15 2.15 0 1 0 -4.3 0zM349.16 161.62a2.15 2.15 0 1 0 4.3 0a2.15 2.15 0 1 0 -4.3 0zM349.77 161.61a2.15 2.15 0 1 0 4.3 0a2.15 2.15 0 1 0 -4.3 0zM350.39 161.59a2.15 2.15 0 1 0 4.3 0a2.15 2.15 0 1 0 -4.3 0zM351.04 161.58a2.15 2.15 0 1 0 4.3 0a2.15 2.15 0 1 0 -4.3 0zM351.7 161.57a2.15 2.15 0 1 0 4.3 0a2.15 2.15 0 1 0 -4.3 0zM352.4 161.55a2.15 2.15 0 1 0 4.3 0a2.15 2.15 0 1 0 -4.3 0zM353.11 161.54a2.15 2.15 0 1 0 4.3 0a2.15 2.15 0 1 0 -4.3 0zM353.85 161.53a2.15 2.15 0 1 0 4.3 0a2.15 2.15 0 1 0 -4.3 0zM354.62 161.51a2.15 2.15 0 1 0 4.3 0a2.15 2.15 0 1 0 -4.3 0zM355.41 161.5a2.15 2.15 0 1 0 4.3 0a2.15 2.15 0 1 0 -4.3 0zM356.23 161.48a2.15 2.15 0 1 0 4.3 0a2.15 2.15 0 1 0 -4.3 0zM357.08 161.47a2.15 2.15 0 1 0 4.3 0a2.15 2.15 0 1 0 -4.3 0zM357.96 161.45a2.15 2.15 0 1 0 4.3 0a2.15 2.15 0 1 0 -4.3 0zM358.87 161.44a2.15 2.15 0 1 0 4.3 0a2.15 2.15 0 1 0 -4.3 0zM359.82 161.43a2.15 2.15 0 1 0 4.3 0a2.15 2.15 0 1 0 -4.3 0zM360.79 161.41a2.15 2.15 0 1 0 4.3 0a2.15 2.15 0 1 0 -4.3 0zM361.8 161.4a2.15 2.15 0 1 0 4.3 0a2.15 2.15 0 1 0 -4.3 0zM362.84 161.38a2.15 2.15 0 1 0 4.3 0a2.15 2.15 0 1 0 -4.3 0zM363.93 161.37a2.15 2.15 0 1 0 4.3 0a2.15 2.15 0 1 0 -4.3 0zM365.05 161.35a2.15 2.15 0 1 0 4.3 0a2.15 2.15 0 1 0 -4.3 0zM366.2 161.33a2.15 2.15 0 1 0 4.3 0a2.15 2.15 0 1 0 -4.3 0zM367.4 161.32a2.15 2.15 0 1 0 4.3 0a2.15 2.15 0 1 0 -4.3 0zM368.64 161.3a2.15 2.15 0 1 0 4.3 0a2.15 2.15 0 1 0 -4.3 0zM369.93 161.29a2.15 2.15 0 1 0 4.3 0a2.15 2.15 0 1 0 -4.3 0zM371.26 161.27a2.15 2.15 0 1 0 4.3 0a2.15 2.15 0 1 0 -4.3 0zM372.63 161.25a2.15 2.15 0 1 0 4.3 0a2.15 2.15 0 1 0 -4.3 0zM374.06 161.24a2.15 2.15 0 1 0 4.3 0a2.15 2.15 0 1 0 -4.3 0zM375.53 161.22a2.15 2.15 0 1 0 4.3 0a2.15 2.15 0 1 0 -4.3 0zM377.06 161.21a2.15 2.15 0 1 0 4.3 0a2.15 2.15 0 1 0 -4.3 0zM378.63 161.19a2.15 2.15 0 1 0 4.3 0a2.15 2.15 0 1 0 -4.3 0zM380.27 161.17a2.15 2.15 0 1 0 4.3 0a2.15 2.15 0 1 0 -4.3 0zM381.96 161.15a2.15 2.15 0 1 0 4.3 0a2.15 2.15 0 1 0 -4.3 0zM383.71 161.14a2.15 2.15 0 1 0 4.3 0a2.15 2.15 0 1 0 -4.3 0zM385.52 161.12a2.15 2.15 0 1 0 4.3 0a2.15 2.15 0 1 0 -4.3 0zM387.4 161.1a2.15 2.15 0 1 0 4.3 0a2.15 2.15 0 1 0 -4.3 0zM389.34 161.08a2.15 2.15 0 1 0 4.3 0a2.15 2.15 0 1 0 -4.3 0zM391.35 161.07a2.15 2.15 0 1 0 4.3 0a2.15 2.15 0 1 0 -4.3 0zM393.42 161.05a2.15 2.15 0 1 0 4.3 0a2.15 2.15 0 1 0 -4.3 0zM395.58 161.03a2.15 2.15 0 1 0 4.3 0a2.15 2.15 0 1 0 -4.3 0zM397.8 161.01a2.15 2.15 0 1 0 4.3 0a2.15 2.15 0 1 0 -4.3 0zM400.11 160.99a2.15 2.15 0 1 0 4.3 0a2.15 2.15 0 1 0 -4.3 0zM402.49 160.98a2.15 2.15 0 1 0 4.3 0a2.15 2.15 0 1 0 -4.3 0zM404.96 160.96a2.15 2.15 0 1 0 4.3 0a2.15 2.15 0 1 0 -4.3 0zM407.52 160.94a2.15 2.15 0 1 0 4.3 0a2.15 2.15 0 1 0 -4.3 0zM410.16 160.92a2.15 2.15 0 1 0 4.3 0a2.15 2.15 0 1 0 -4.3 0zM412.9 160.9a2.15 2.15 0 1 0 4.3 0a2.15 2.15 0 1 0 -4.3 0zM415.73 160.88a2.15 2.15 0 1 0 4.3 0a2.15 2.15 0 1 0 -4.3 0zM418.67 160.86a2.15 2.15 0 1 0 4.3 0a2.15 2.15 0 1 0 -4.3 0zM421.7 160.84a2.15 2.15 0 1 0 4.3 0a2.15 2.15 0 1 0 -4.3 0zM424.84 160.82a2.15 2.15 0 1 0 4.3 0a2.15 2.15 0 1 0 -4.3 0zM428.09 160.8a2.15 2.15 0 1 0 4.3 0a2.15 2.15 0 1 0 -4.3 0zM431.46 160.78a2.15 2.15 0 1 0 4.3 0a2.15 2.15 0 1 0 -4.3 0zM434.94 160.76a2.15 2.15 0 1 0 4.3 0a2.15 2.15 0 1 0 -4.3 0zM438.55 160.74a2.15 2.15 0 1 0 4.3 0a2.15 2.15 0 1 0 -4.3 0zM442.28 160.72a2.15 2.15 0 1 0 4.3 0a2.15 2.15 0 1 0 -4.3 0zM446.14 160.7a2.15 2.15 0 1 0 4.3 0a2.15 2.15 0 1 0 -4.3 0zM450.13 160.68a2.15 2.15 0 1 0 4.3 0a2.15 2.15 0 1 0 -4.3 0zM454.27 160.66a2.15 2.15 0 1 0 4.3 0a2.15 2.15 0 1 0 -4.3 0zM458.55 160.63a2.15 2.15 0 1 0 4.3 0a2.15 2.15 0 1 0 -4.3 0zM462.98 160.61a2.15 2.15 0 1 0 4.3 0a2.15 2.15 0 1 0 -4.3 0zM467.57 160.59a2.15 2.15 0 1 0 4.3 0a2.15 2.15 0 1 0 -4.3 0zM472.32 160.57a2.15 2.15 0 1 0 4.3 0a2.15 2.15 0 1 0 -4.3 0zM477.23 160.55a2.15 2.15 0 1 0 4.3 0a2.15 2.15 0 1 0 -4.3 0zM482.31 160.52a2.15 2.15 0 1 0 4.3 0a2.15 2.15 0 1 0 -4.3 0zM487.58 160.5a2.15 2.15 0 1 0 4.3 0a2.15 2.15 0 1 0 -4.3 0zM493.02 160.48a2.15 2.15 0 1 0 4.3 0a2.15 2.15 0 1 0 -4.3 0zM498.66 160.45a2.15 2.15 0 1 0 4.3 0a2.15 2.15 0 1 0 -4.3 0zM504.5 160.43a2.15 2.15 0 1 0 4.3 0a2.15 2.15 0 1 0 -4.3 0zM510.53 160.41a2.15 2.15 0 1 0 4.3 0a2.15 2.15 0 1 0 -4.3 0zM516.79 160.38a2.15 2.15 0 1 0 4.3 0a2.15 2.15 0 1 0 -4.3 0zM523.25 160.36a2.15 2.15 0 1 0 4.3 0a2.15 2.15 0 1 0 -4.3 0zM529.95 160.34a2.15 2.15 0 1 0 4.3 0a2.15 2.15 0 1 0 -4.3 0z"/>
<path fill="#0000ff" d="M334.48 159.9l2.4 4.1h-4.8zM334.93 159.64l2.4 4.1h-4.8zM335.4 159.45l2.4 4.1h-4.8zM335.88 159.3l2.4 4.1h-4.8zM336.36 159.18l2.4 4.1h-4.8zM336.88 159.07l2.4 4.1h-4.8zM337.4 158.97l2.4 4.1h-4.8zM337.89 158.89l2.4 4.1h-4.8zM338.45 158.81l2.4 4.1h-4.8zM338.92 158.74l2.4 4.1h-4.8zM339.44 158.68l2.4 4.1h-4.8zM340.03 158.61l2.4 4.1h-4.8zM340.67 158.54l2.4 4.1h-4.8zM341.14 158.49l2.4 4.1h-4.8zM341.64 158.44l2.4 4.1h-4.8zM342.18 158.39l2.4 4.1h-4.8zM342.75 158.34l2.4 4.1h-4.8zM343.37 158.29l2.4 4.1h-4.8zM344.03 158.24l2.4 4.1h-4.8zM344.73 158.19l2.4 4.1h-4.8zM345.49 158.13l2.4 4.1h-4.8zM346.3 158.08l2.4 4.1h-4.8zM347.17 158.02l2.4 4.1h-4.8zM347.63 157.99l2.4 4.1h-4.8zM348.1 157.97l2.4 4.1h-4.8zM348.59 157.94l2.4 4.1h-4.8zM349.1 157.91l2.4 4.1h-4.8zM349.63 157.88l2.4 4.1h-4.8zM350.17 157.85l2.4 4.1h-4.8zM350.73 157.82l2.4 4.1h-4.8zM351.31 157.79l2.4 4.1h-4.8zM351.92 157.76l2.4 4.1h-4.8zM352.54 157.73l2.4 4.1h-4.8zM353.19 157.7l2.4 4.1h-4.8zM353.85 157.67l2.4 4.1h-4.8zM354.55 157.64l2.4 4.1h-4.8zM355.26 157.61l2.4 4.1h-4.8zM356 157.57l2.4 4.1h-4.8zM356.77 157.54l2.4 4.1h-4.8zM357.56 157.51l2.4 4.1h-4.8zM358.38 157.48l2.4 4.1h-4.8zM359.23 157.45l2.4 4.1h-4.8zM360.11 157.41l2.4 4.1h-4.8zM361.02 157.38l2.4 4.1h-4.8zM361.97 157.35l2.4 4.1h-4.8zM362.94 157.31l2.4 4.1h-4.8zM363.95 157.28l2.4 4.1h-4.8zM364.99 157.24l2.4 4.1h-4.8zM366.08 157.21l2.4 4.1h-4.8zM367.2 157.17l2.4 4.1h-4.8zM368.35 157.14l2.4 4.1h-4.8zM369.55 157.1l2.4 4.1h-4.8zM370.79 157.06l2.4 4.1h-4.8zM372.08 157.03l2.4 4.1h-4.8zM373.41 156.99l2.4 4.1h-4.8zM374.78 156.95l2.4 4.1h-4.8zM376.21 156.92l2.4 4.1h-4.8zM377.68 156.88l2.4 4.1h-4.8zM379.21 156.84l2.4 4.1h-4.8zM380.78 156.8l2.4 4.1h-4.8zM382.42 156.76l2.4 4.1h-4.8zM384.11 156.73l2.4 4.1h-4.8zM385.86 156.69l2.4 4.1h-4.8zM387.67 156.65l2.4 4.1h-4.8zM389.55 156.61l2.4 4.1h-4.8zM391.49 156.57l2.4 4.1h-4.8zM393.5 156.53l2.4 4.1h-4.8zM395.57 156.48l2.4 4.1h-4.8zM397.73 156.44l2.4 4.1h-4.8zM399.95 156.4l2.4 4.1h-4.8zM402.26 156.36l2.4 4.1h-4.8zM404.64 156.32l2.4 4.1h-4.8zM407.11 156.27l2.4 4.1h-4.8zM409.67 156.23l2.4 4.1h-4.8zM412.31 156.19l2.4 4.1h-4.8zM415.05 156.14l2.4 4.1h-4.8zM417.88 156.1l2.4 4.1h-4.8zM420.82 156.05l2.4 4.1h-4.8zM423.85 156.01l2.4 4.1h-4.8zM426.99 155.96l2.4 4.1h-4.8zM430.24 155.92l2.4 4.1h-4.8zM433.61 155.87l2.4 4.1h-4.8zM437.09 155.82l2.4 4.1h-4.8zM440.7 155.78l2.4 4.1h-4.8zM444.43 155.73l2.4 4.1h-4.8zM448.29 155.68l2.4 4.1h-4.8zM452.28 155.63l2.4 4.1h-4.8zM456.42 155.59l2.4 4.1h-4.8zM460.7 155.54l2.4 4.1h-4.8zM465.13 155.49l2.4 4.1h-4.8zM469.72 155.44l2.4 4.1h-4.8zM474.47 155.39l2.4 4.1h-4.8zM479.38 155.33l2.4 4.1h-4.8zM484.46 155.28l2.4 4.1h-4.8zM489.73 155.23l2.4 4.1h-4.8zM495.17 155.18l2.4 4.1h-4.8zM500.81 155.13l2.4 4.1h-4.8zM506.65 155.07l2.4 4.1h-4.8zM512.68 155.02l2.4 4.1h-4.8zM518.94 154.97l2.4 4.1h-4.8zM525.4 154.91l2.4 4.1h-4.8zM532.1 154.86l2.4 4.1h-4.8z"/>
<path fill="#ff00ff" d="M332.08 160.8h4.8l-2.4 4.1zM332.53 160.8h4.8l-2.4 4.1zM333 160.6h4.8l-2.4 4.1zM333.48 160.42h4.8l-2.4 4.1zM333.96 160.27h4.8l-2.4 4.1zM334.48 160.13h4.8l-2.4 4.1zM335 160h4.8l-2.4 4.1zM335.49 159.89h4.8l-2.4 4.1zM336.05 159.78h4.8l-2.4 4.1zM336.52 159.69h4.8l-2.4 4.1zM337.04 159.6h4.8l-2.4 4.1zM337.63 159.5h4.8l-2.4 4.1zM338.27 159.4h4.8l-2.4 4.1zM338.74 159.33h4.8l-2.4 4.1zM339.24 159.26h4.8l-2.4 4.1zM339.78 159.19h4.8l-2.4 4.1zM340.35 159.11h4.8l-2.4 4.1zM340.97 159.04h4.8l-2.4 4.1zM341.63 158.96h4.8l-2.4 4.1zM342.33 158.88h4.8l-2.4 4.1zM343.09 158.79h4.8l-2.4 4.1zM343.9 158.71h4.8l-2.4 4.1zM344.77 158.62h4.8l-2.4 4.1zM345.23 158.58h4.8l-2.4 4.1zM345.7 158.53h4.8l-2.4 4.1zM346.19 158.48h4.8l-2.4 4.1zM346.7 158.44h4.8l-2.4 4.1zM347.23 158.39h4.8l-2.4 4.1zM347.77 158.34h4.8l-2.4 4.1zM348.33 158.3h4.8l-2.4 4.1zM348.91 158.25h4.8l-2.4 4.1zM349.52 158.2h4.8l-2.4 4.1zM350.14 158.15h4.8l-2.4 4.1zM350.79 158.1h4.8l-2.4 4.1zM351.45 158.04h4.8l-2.4 4.1zM352.15 157.99h4.8l-2.4 4.1zM352.86 157.94h4.8l-2.4 4.1zM353.6 157.89h4.8l-2.4 4.1zM354.37 157.83h4.8l-2.4 4.1zM355.16 157.78h4.8l-2.4 4.1zM355.98 157.72h4.8l-2.4 4.1zM356.83 157.66h4.8l-2.4 4.1zM357.71 157.61h4.8l-2.4 4.1zM358.62 157.55h4.8l-2.4 4.1zM359.57 157.49h4.8l-2.4 4.1zM360.54 157.43h4.8l-2.4 4.1zM361.55 157.37h4.8l-2.4 4.1zM362.59 157.31h4.8l-2.4 4.1zM363.68 157.25h4.8l-2.4 4.1zM364.8 157.18h4.8l-2.4 4.1zM365.95 157.12h4.8l-2.4 4.1zM367.15 157.06h4.8l-2.4 4.1zM368.39 156.99h4.8l-2.4 4.1zM369.68 156.93h4.8l-2.4 4.1zM371.01 156.86h4.8l-2.4 4.1zM372.38 156.79h4.8l-2.4 4.1zM373.81 156.72h4.8l-2.4 4.1zM375.28 156.65h4.8l-2.4 4.1zM376.81 156.58h4.8l-2.4 4.1zM378.38 156.51h4.8l-2.4 4.1zM380.02 156.44h4.8l-2.4 4.1zM381.71 156.36h4.8l-2.4 4.1zM383.46 156.29h4.8l-2.4 4.1zM385.27 156.21h4.8l-2.4 4.1zM387.15 156.14h4.8l-2.4 4.1zM389.09 156.06h4.8l-2.4 4.1zM391.1 155.98h4.8l-2.4 4.1zM393.17 155.9h4.8l-2.4 4.1zM395.33 155.82h4.8l-2.4 4.1zM397.55 155.74h4.8l-2.4 4.1zM399.86 155.66h4.8l-2.4 4.1zM402.24 155.58h4.8l-2.4 4.1zM404.71 155.49h4.8l-2.4 4.1zM407.27 155.4h4.8l-2.4 4.1zM409.91 155.32h4.8l-2.4 4.1zM412.65 155.23h4.8l-2.4 4.1zM415.48 155.14h4.8l-2.4 4.1zM418.42 155.05h4.8l-2.4 4.1zM421.45 154.96h4.8l-2.4 4.1zM424.59 154.87h4.8l-2.4 4.1zM427.84 154.77h4.8l-2.4 4.1zM431.21 154.68h4.8l-2.4 4.1zM434.69 154.58h4.8l-2.4 4.1zM438.3 154.48h4.8l-2.4 4.1zM442.03 154.38h4.8l-2.4 4.1zM445.89 154.28h4.8l-2.4 4.1zM449.88 154.18h4.8l-2.4 4.1zM454.02 154.08h4.8l-2.4 4.1zM458.3 153.97h4.8l-2.4 4.1zM462.73 153.87h4.8l-2.4 4.1zM467.32 153.76h4.8l-2.4 4.1zM472.07 153.65h4.8l-2.4 4.1zM476.98 153.54h4.8l-2.4 4.1zM482.06 153.43h4.8l-2.4 4.1zM487.33 153.32h4.8l-2.4 4.1zM492.77 153.2h4.8l-2.4 4.1zM498.41 153.09h4.8l-2.4 4.1zM504.25 152.97h4.8l-2.4 4.1zM510.28 152.85h4.8l-2.4 4.1zM516.54 152.73h4.8l-2.4 4.1zM523 152.61h4.8l-2.4 4.1zM529.7 152.48h4.8l-2.4 4.1z"/>
<path fill="#008000" d="M334.48 159.5l2.5 2.5-2.5 2.5-2.5-2.5zM334.93 159.5l2.5 2.5-2.5 2.5-2.5-2.5zM335.4 159.33l2.5 2.5-2.5 2.5-2.5-2.5zM335.88 159.05l2.5 2.5-2.5 2.5-2.5-2.5zM336.36 158.8l2.5 2.5-2.5 2.5-2.5-2.5zM336.88 158.58l2.5 2.5-2.5 2.5-2.5-2.5zM337.4 158.38l2.5 2.5-2.5 2.5-2.5-2.5zM337.89 158.21l2.5 2.5-2.5 2.5-2.5-2.5zM338.45 158.04l2.5 2.5-2.5 2.5-2.5-2.5zM338.92 157.9l2.5 2.5-2.5 2.5-2.5-2.5zM339.44 157.75l2.5 2.5-2.5 2.5-2.5-2.5zM340.03 157.61l2.5 2.5-2.5 2.5-2.5-2.5zM340.67 157.45l2.5 2.5-2.5 2.5-2.5-2.5zM341.14 157.35l2.5 2.5-2.5 2.5-2.5-2.5zM341.64 157.24l2.5 2.5-2.5 2.5-2.5-2.5zM342.18 157.13l2.5 2.5-2.5 2.5-2.5-2.5zM342.75 157.01l2.5 2.5-2.5 2.5-2.5-2.5zM343.37 156.9l2.5 2.5-2.5 2.5-2.5-2.5zM344.03 156.78l2.5 2.5-2.5 2.5-2.5-2.5zM344.73 156.66l2.5 2.5-2.5 2.5-2.5-2.5zM345.49 156.53l2.5 2.5-2.5 2.5-2.5-2.5zM346.3 156.41l2.5 2.5-2.5 2.5-2.5-2.5zM347.17 156.27l2.5 2.5-2.5 2.5-2.5-2.5zM347.63 156.21l2.5 2.5-2.5 2.5-2.5-2.5zM348.1 156.14l2.5 2.5-2.5 2.5-2.5-2.5zM348.59 156.07l2.5 2.5-2.5 2.5-2.5-2.5zM349.1 156l2.5 2.5-2.5 2.5-2.5-2.5zM349.63 155.93l2.5 2.5-2.5 2.5-2.5-2.5zM350.17 155.86l2.5 2.5-2.5 2.5-2.5-2.5zM350.73 155.79l2.5 2.5-2.5 2.5-2.5-2.5zM351.31 155.72l2.5 2.5-2.5 2.5-2.5-2.5zM351.92 155.65l2.5 2.5-2.5 2.5-2.5-2.5zM352.54 155.57l2.5 2.5-2.5 2.5-2.5-2.5zM353.19 155.5l2.5 2.5-2.5 2.5-2.5-2.5zM353.85 155.42l2.5 2.5-2.5 2.5-2.5-2.5zM354.55 155.34l2.5 2.5-2.5 2.5-2.5-2.5zM355.26 155.27l2.5 2.5-2.5 2.5-2.5-2.5zM356 155.19l2.5 2.5-2.5 2.5-2.5-2.5zM356.77 155.11l2.5 2.5-2.5 2.5-2.5-2.5zM357.56 155.03l2.5 2.5-2.5 2.5-2.5-2.5zM358.38 154.95l2.5 2.5-2.5 2.5-2.5-2.5zM359.23 154.86l2.5 2.5-2.5 2.5-2.5-2.5zM360.11 154.78l2.5 2.5-2.5 2.5-2.5-2.5zM361.02 154.7l2.5 2.5-2.5 2.5-2.5-2.5zM361.97 154.61l2.5 2.5-2.5 2.5-2.5-2.5zM362.94 154.52l2.5 2.5-2.5 2.5-2.5-2.5zM363.95 154.44l2.5 2.5-2.5 2.5-2.5-2.5zM364.99 154.35l2.5 2.5-2.5 2.5-2.5-2.5zM366.08 154.26l2.5 2.5-2.5 2.5-2.5-2.5zM367.2 154.17l2.5 2.5-2.5 2.5-2.5-2.5zM368.35 154.08l2.5 2.5-2.5 2.5-2.5-2.5zM369.55 153.98l2.5 2.5-2.5 2.5-2.5-2.5zM370.79 153.89l2.5 2.5-2.5 2.5-2.5-2.5zM372.08 153.79l2.5 2.5-2.5 2.5-2.5-2.5zM373.41 153.7l2.5 2.5-2.5 2.5-2.5-2.5zM374.78 153.6l2.5 2.5-2.5 2.5-2.5-2.5zM376.21 153.5l2.5 2.5-2.5 2.5-2.5-2.5zM377.68 153.4l2.5 2.5-2.5 2.5-2.5-2.5zM379.21 153.3l2.5 2.5-2.5 2.5-2.5-2.5zM380.78 153.2l2.5 2.5-2.5 2.5-2.5-2.5zM382.42 153.1l2.5 2.5-2.5 2.5-2.5-2.5zM384.11 152.99l2.5 2.5-2.5 2.5-2.5-2.5zM385.86 152.89l2.5 2.5-2.5 2.5-2.5-2.5zM387.67 152.78l2.5 2.5-2.5 2.5-2.5-2.5zM389.55 152.67l2.5 2.5-2.5 2.5-2.5-2.5zM391.49 152.56l2.5 2.5-2.5 2.5-2.5-2.5zM393.5 152.45l2.5 2.5-2.5 2.5-2.5-2.5zM395.57 152.34l2.5 2.5-2.5 2.5-2.5-2.5zM397.73 152.22l2.5 2.5-2.5 2.5-2.5-2.5zM399.95 152.11l2.5 2.5-2.5 2.5-2.5-2.5zM402.26 151.99l2.5 2.5-2.5 2.5-2.5-2.5zM404.64 151.87l2.5 2.5-2.5 2.5-2.5-2.5zM407.11 151.75l2.5 2.5-2.5 2.5-2.5-2.5zM409.67 151.63l2.5 2.5-2.5 2.5-2.5-2.5zM412.31 151.51l2.5 2.5-2.5 2.5-2.5-2.5zM415.05 151.39l2.5 2.5-2.5 2.5-2.5-2.5zM417.88 151.26l2.5 2.5-2.5 2.5-2.5-2.5zM420.82 151.14l2.5 2.5-2.5 2.5-2.5-2.5zM423.85 151.01l2.5 2.5-2.5 2.5-2.5-2.5zM426.99 150.88l2.5 2.5-2.5 2.5-2.5-2.5zM430.24 150.75l2.5 2.5-2.5 2.5-2.5-2.5zM433.61 150.61l2.5 2.5-2.5 2.5-2.5-2.5zM437.09 150.48l2.5 2.5-2.5 2.5-2.5-2.5zM440.7 150.34l2.5 2.5-2.5 2.5-2.5-2.5zM444.43 150.21l2.5 2.5-2.5 2.5-2.5-2.5zM448.29 150.07l2.5 2.5-2.5 2.5-2.5-2.5zM452.28 149.93l2.5 2.5-2.5 2.5-2.5-2.5zM456.42 149.78l2.5 2.5-2.5 2.5-2.5-2.5zM460.7 149.64l2.5 2.5-2.5 2.5-2.5-2.5zM465.13 149.49l2.5 2.5-2.5 2.5-2.5-2.5zM469.72 149.35l2.5 2.5-2.5 2.5-2.5-2.5zM474.47 149.2l2.5 2.5-2.5 2.5-2.5-2.5zM479.38 149.05l2.5 2.5-2.5 2.5-2.5-2.5zM484.46 148.89l2.5 2.5-2.5 2.5-2.5-2.5zM489.73 148.74l2.5 2.5-2.5 2.5-2.5-2.5zM495.17 148.58l2.5 2.5-2.5 2.5-2.5-2.5zM500.81 148.42l2.5 2.5-2.5 2.5-2.5-2.5zM506.65 148.26l2.5 2.5-2.5 2.5-2.5-2.5zM512.68 148.1l2.5 2.5-2.5 2.5-2.5-2.5zM518.94 147.93l2.5 2.5-2.5 2.5-2.5-2.5zM525.4 147.77l2.5 2.5-2.5 2.5-2.5-2.5zM532.1 147.6l2.5 2.5-2.5 2.5-2.5-2.5z"/>
<path fill="#000080" d="M331.88 161.6l4-2.3v4.6zM332.33 161.6l4-2.3v4.6zM332.8 161.6l4-2.3v4.6zM333.28 161.32l4-2.3v4.6zM333.76 160.97l4-2.3v4.6zM334.28 160.65l4-2.3v4.6zM334.8 160.36l4-2.3v4.6zM335.29 160.12l4-2.3v4.6zM335.85 159.87l4-2.3v4.6zM336.32 159.67l4-2.3v4.6zM336.84 159.47l4-2.3v4.6zM337.43 159.26l4-2.3v4.6zM338.07 159.04l4-2.3v4.6zM338.54 158.89l4-2.3v4.6zM339.04 158.73l4-2.3v4.6zM339.58 158.57l4-2.3v4.6zM340.15 158.41l4-2.3v4.6zM340.77 158.24l4-2.3v4.6zM341.43 158.07l4-2.3v4.6zM342.13 157.9l4-2.3v4.6zM342.89 157.72l4-2.3v4.6zM343.7 157.54l4-2.3v4.6zM344.57 157.35l4-2.3v4.6zM345.03 157.26l4-2.3v4.6zM345.5 157.16l4-2.3v4.6zM345.99 157.06l4-2.3v4.6zM346.5 156.96l4-2.3v4.6zM347.03 156.86l4-2.3v4.6zM347.57 156.76l4-2.3v4.6zM348.13 156.66l4-2.3v4.6zM348.71 156.56l4-2.3v4.6zM349.32 156.45l4-2.3v4.6zM349.94 156.35l4-2.3v4.6zM350.59 156.24l4-2.3v4.6zM351.25 156.13l4-2.3v4.6zM351.95 156.02l4-2.3v4.6zM352.66 155.91l4-2.3v4.6zM353.4 155.8l4-2.3v4.6zM354.17 155.68l4-2.3v4.6zM354.96 155.57l4-2.3v4.6zM355.78 155.45l4-2.3v4.6zM356.63 155.33l4-2.3v4.6zM357.51 155.21l4-2.3v4.6zM358.42 155.09l4-2.3v4.6zM359.37 154.97l4-2.3v4.6zM360.34 154.85l4-2.3v4.6zM361.35 154.72l4-2.3v4.6zM362.39 154.6l4-2.3v4.6zM363.48 154.47l4-2.3v4.6zM364.6 154.34l4-2.3v4.6zM365.75 154.21l4-2.3v4.6zM366.95 154.07l4-2.3v4.6zM368.19 153.94l4-2.3v4.6zM369.48 153.8l4-2.3v4.6zM370.81 153.67l4-2.3v4.6zM372.18 153.53l4-2.3v4.6zM373.61 153.39l4-2.3v4.6zM375.08 153.24l4-2.3v4.6zM376.61 153.1l4-2.3v4.6zM378.18 152.95l4-2.3v4.6zM379.82 152.81l4-2.3v4.6zM381.51 152.66l4-2.3v4.6zM383.26 152.5l4-2.3v4.6zM385.07 152.35l4-2.3v4.6zM386.95 152.2l4-2.3v4.6zM388.89 152.04l4-2.3v4.6zM390.9 151.88l4-2.3v4.6zM392.97 151.72l4-2.3v4.6zM395.13 151.56l4-2.3v4.6zM397.35 151.39l4-2.3v4.6zM399.66 151.23l4-2.3v4.6zM402.04 151.06l4-2.3v4.6zM404.51 150.89l4-2.3v4.6zM407.07 150.72l4-2.3v4.6zM409.71 150.54l4-2.3v4.6zM412.45 150.36l4-2.3v4.6zM415.28 150.19l4-2.3v4.6zM418.22 150l4-2.3v4.6zM421.25 149.82l4-2.3v4.6zM424.39 149.64l4-2.3v4.6zM427.64 149.45l4-2.3v4.6zM431.01 149.26l4-2.3v4.6zM434.49 149.07l4-2.3v4.6zM438.1 148.87l4-2.3v4.6zM441.83 148.68l4-2.3v4.6zM445.69 148.48l4-2.3v4.6zM449.68 148.28l4-2.3v4.6zM453.82 148.07l4-2.3v4.6zM458.1 147.87l4-2.3v4.6zM462.53 147.66l4-2.3v4.6zM467.12 147.45l4-2.3v4.6zM471.87 147.23l4-2.3v4.6zM476.78 147.02l4-2.3v4.6zM481.86 146.8l4-2.3v4.6zM487.13 146.58l4-2.3v4.6zM492.57 146.35l4-2.3v4.6zM498.21 146.13l4-2.3v4.6zM504.05 145.9l4-2.3v4.6zM510.08 145.66l4-2.3v4.6zM516.34 145.43l4-2.3v4.6zM522.8 145.19l4-2.3v4.6zM529.5 144.95l4-2.3v4.6z"/></g>
<rect x="331.9" y="12.5" width="207.6" height="153.0" fill="none" stroke="#2a2a2a" stroke-width="1.3"/>
<path d="M334.1 165.5v3.2M334.1 12.5v-3.2M395.2 165.5v3.2M395.2 12.5v-3.2M456.4 165.5v3.2M456.4 12.5v-3.2M517.5 165.5v3.2M517.5 12.5v-3.2M364.7 165.5v1.8M364.7 12.5v-1.8M425.8 165.5v1.8M425.8 12.5v-1.8M486.9 165.5v1.8M486.9 12.5v-1.8M331.9 162.7h-3.2M539.5 162.7h3.2M331.9 125.1h-3.2M539.5 125.1h3.2M331.9 87.6h-3.2M539.5 87.6h3.2M331.9 50.0h-3.2M539.5 50.0h3.2M331.9 12.5h-3.2M539.5 12.5h3.2M331.9 143.9h-1.8M539.5 143.9h1.8M331.9 106.4h-1.8M539.5 106.4h1.8M331.9 68.8h-1.8M539.5 68.8h1.8M331.9 31.3h-1.8M539.5 31.3h1.8" stroke="#2a2a2a" stroke-width="1.1" fill="none"/>
<g font-family='"Liberation Sans", sans-serif' font-size="10" fill="#1e1e1e" stroke="#1e1e1e" stroke-width="0.15"><text transform="translate(327.00 165.90) scale(1.045 1)" text-anchor="end">0.0</text><text transform="translate(326.90 129.35) scale(1.045 1)" text-anchor="end">5.0x10<tspan dy="-4.8" font-size="6.4">2</tspan></text><text transform="translate(326.90 91.80) scale(1.045 1)" text-anchor="end">1.0x10<tspan dy="-4.8" font-size="6.4">3</tspan></text><text transform="translate(326.90 54.25) scale(1.045 1)" text-anchor="end">1.5x10<tspan dy="-4.8" font-size="6.4">3</tspan></text><text transform="translate(326.90 16.70) scale(1.045 1)" text-anchor="end">2.0x10<tspan dy="-4.8" font-size="6.4">3</tspan></text><text transform="translate(334.10 179.20) scale(1.045 1)" text-anchor="middle">0.0</text><text transform="translate(395.23 180.80) scale(1.045 1)" text-anchor="middle">3.0x10<tspan dy="-4.8" font-size="6.4">5</tspan></text><text transform="translate(456.37 180.80) scale(1.045 1)" text-anchor="middle">6.0x10<tspan dy="-4.8" font-size="6.4">5</tspan></text><text transform="translate(517.50 180.80) scale(1.045 1)" text-anchor="middle">9.0x10<tspan dy="-4.8" font-size="6.4">5</tspan></text></g>
<g font-family='"Liberation Sans", sans-serif' font-size="9.6" fill="#1e1e1e" stroke="#1e1e1e" stroke-width="0.15"><text transform="translate(278.00 193.00) scale(1.045 1)" text-anchor="start">(b)</text></g>
<g font-family='"Liberation Serif", serif' font-size="10" fill="#1e1e1e" stroke="#1e1e1e" stroke-width="0.2"><text transform="translate(423.80 192.40) scale(1.000 1)" text-anchor="start"><tspan font-style="italic">f</tspan>,<tspan dx="1.3" font-size="10.6"> (Hz)</tspan></text></g>
<g transform="translate(288.2 116.9) rotate(-90)" font-family='"Liberation Serif", serif' font-size="10" fill="#1e1e1e" stroke="#1e1e1e" stroke-width="0.1"><text x="0" y="0">10</text><text x="10.2" y="-4.0" font-size="6.6">6</text><text x="15.5" y="0" font-style="italic">x</text><text x="24.2" y="0" font-size="11.5">&#963;</text><text x="30.0" y="0">&#8242;</text><text x="33.4" y="0">,</text><text x="38.2" y="0" textLength="34.4" lengthAdjust="spacingAndGlyphs">(1/&#937; m)</text></g>
<g font-family='"Liberation Sans", sans-serif' font-size="9" fill="#1e1e1e" stroke="#1e1e1e" stroke-width="0.15"><path fill="#000000" stroke="none" d="M482.75 19.75h4.29v4.29h-4.29z"/><text transform="translate(497.20 25.00) scale(1.000 1)" text-anchor="start"><tspan font-family='"Liberation Serif", serif' font-style="italic" font-size="9.0" stroke="none">B</tspan> = 0.0 T</text><path fill="#ff0000" stroke="none" d="M482.53 33a2.37 2.37 0 1 0 4.73 0a2.37 2.37 0 1 0 -4.73 0z"/><text transform="translate(497.20 36.10) scale(1.000 1)" text-anchor="start"><tspan font-family='"Liberation Serif", serif' font-style="italic" font-size="9.0" stroke="none">B</tspan> = 0.1 T</text><path fill="#0000ff" stroke="none" d="M484.9 41.44l2.64 4.51h-5.28z"/><text transform="translate(497.20 47.40) scale(1.000 1)" text-anchor="start"><tspan font-family='"Liberation Serif", serif' font-style="italic" font-size="9.0" stroke="none">B</tspan> = 0.2 T</text><path fill="#ff00ff" stroke="none" d="M482.26 53.75h5.28l-2.64 4.51z"/><text transform="translate(497.20 58.50) scale(1.000 1)" text-anchor="start"><tspan font-family='"Liberation Serif", serif' font-style="italic" font-size="9.0" stroke="none">B</tspan> = 0.3 T</text><path fill="#008000" stroke="none" d="M484.9 63.65l2.75 2.75-2.75 2.75-2.75-2.75z"/><text transform="translate(497.20 69.50) scale(1.000 1)" text-anchor="start"><tspan font-family='"Liberation Serif", serif' font-style="italic" font-size="9.0" stroke="none">B</tspan> = 0.4 T</text><path fill="#000080" stroke="none" d="M482.04 77.3l4.4-2.53v5.06z"/><text transform="translate(497.20 80.40) scale(1.000 1)" text-anchor="start"><tspan font-family='"Liberation Serif", serif' font-style="italic" font-size="9.0" stroke="none">B</tspan> = 0.5 T</text></g>
<clipPath id="cpc"><rect x="59.5" y="205.5" width="208.3" height="153.4"/></clipPath>
<g clip-path="url(#cpc)"><path fill="#000000" d="M61.93 353.21h3.9v3.9h-3.9zM62.39 353.17h3.9v3.9h-3.9zM62.86 353.13h3.9v3.9h-3.9zM63.33 353.1h3.9v3.9h-3.9zM63.82 353.06h3.9v3.9h-3.9zM64.34 353.03h3.9v3.9h-3.9zM64.86 353h3.9v3.9h-3.9zM65.35 352.98h3.9v3.9h-3.9zM65.91 352.95h3.9v3.9h-3.9zM66.38 352.93h3.9v3.9h-3.9zM66.91 352.9h3.9v3.9h-3.9zM67.49 352.87h3.9v3.9h-3.9zM68.14 352.85h3.9v3.9h-3.9zM68.61 352.83h3.9v3.9h-3.9zM69.11 352.8h3.9v3.9h-3.9zM69.65 352.78h3.9v3.9h-3.9zM70.22 352.76h3.9v3.9h-3.9zM70.84 352.73h3.9v3.9h-3.9zM71.5 352.71h3.9v3.9h-3.9zM72.21 352.68h3.9v3.9h-3.9zM72.97 352.65h3.9v3.9h-3.9zM73.78 352.63h3.9v3.9h-3.9zM74.66 352.59h3.9v3.9h-3.9zM75.11 352.58h3.9v3.9h-3.9zM75.59 352.56h3.9v3.9h-3.9zM76.08 352.55h3.9v3.9h-3.9zM76.59 352.53h3.9v3.9h-3.9zM77.12 352.51h3.9v3.9h-3.9zM77.66 352.49h3.9v3.9h-3.9zM78.22 352.48h3.9v3.9h-3.9zM78.81 352.46h3.9v3.9h-3.9zM79.41 352.44h3.9v3.9h-3.9zM80.04 352.42h3.9v3.9h-3.9zM80.68 352.4h3.9v3.9h-3.9zM81.35 352.38h3.9v3.9h-3.9zM82.05 352.36h3.9v3.9h-3.9zM82.76 352.34h3.9v3.9h-3.9zM83.51 352.31h3.9v3.9h-3.9zM84.28 352.29h3.9v3.9h-3.9zM85.07 352.27h3.9v3.9h-3.9zM85.89 352.24h3.9v3.9h-3.9zM86.75 352.22h3.9v3.9h-3.9zM87.63 352.2h3.9v3.9h-3.9zM88.54 352.17h3.9v3.9h-3.9zM89.49 352.14h3.9v3.9h-3.9zM90.46 352.12h3.9v3.9h-3.9zM91.48 352.09h3.9v3.9h-3.9zM92.52 352.06h3.9v3.9h-3.9zM93.61 352.03h3.9v3.9h-3.9zM94.73 352.01h3.9v3.9h-3.9zM95.89 351.98h3.9v3.9h-3.9zM97.09 351.95h3.9v3.9h-3.9zM98.34 351.91h3.9v3.9h-3.9zM99.62 351.88h3.9v3.9h-3.9zM100.96 351.85h3.9v3.9h-3.9zM102.34 351.82h3.9v3.9h-3.9zM103.76 351.78h3.9v3.9h-3.9zM105.24 351.75h3.9v3.9h-3.9zM106.77 351.71h3.9v3.9h-3.9zM108.35 351.68h3.9v3.9h-3.9zM109.99 351.64h3.9v3.9h-3.9zM111.69 351.6h3.9v3.9h-3.9zM113.44 351.56h3.9v3.9h-3.9zM115.26 351.52h3.9v3.9h-3.9zM117.14 351.48h3.9v3.9h-3.9zM119.08 351.44h3.9v3.9h-3.9zM121.1 351.39h3.9v3.9h-3.9zM123.18 351.35h3.9v3.9h-3.9zM125.34 351.31h3.9v3.9h-3.9zM127.57 351.26h3.9v3.9h-3.9zM129.88 351.21h3.9v3.9h-3.9zM132.27 351.16h3.9v3.9h-3.9zM134.75 351.12h3.9v3.9h-3.9zM137.31 351.06h3.9v3.9h-3.9zM139.96 351.01h3.9v3.9h-3.9zM142.7 350.96h3.9v3.9h-3.9zM145.54 350.91h3.9v3.9h-3.9zM148.48 350.85h3.9v3.9h-3.9zM151.53 350.79h3.9v3.9h-3.9zM154.68 350.74h3.9v3.9h-3.9zM157.94 350.68h3.9v3.9h-3.9zM161.31 350.62h3.9v3.9h-3.9zM164.8 350.55h3.9v3.9h-3.9zM168.41 350.49h3.9v3.9h-3.9zM172.15 350.42h3.9v3.9h-3.9zM176.03 350.36h3.9v3.9h-3.9zM180.03 350.29h3.9v3.9h-3.9zM184.18 350.22h3.9v3.9h-3.9zM188.47 350.15h3.9v3.9h-3.9zM192.91 350.07h3.9v3.9h-3.9zM197.51 350h3.9v3.9h-3.9zM202.27 349.92h3.9v3.9h-3.9zM207.2 349.84h3.9v3.9h-3.9zM212.29 349.76h3.9v3.9h-3.9zM217.57 349.68h3.9v3.9h-3.9zM223.03 349.6h3.9v3.9h-3.9zM228.68 349.51h3.9v3.9h-3.9zM234.53 349.42h3.9v3.9h-3.9zM240.59 349.33h3.9v3.9h-3.9zM246.85 349.24h3.9v3.9h-3.9zM253.34 349.15h3.9v3.9h-3.9zM260.05 349.05h3.9v3.9h-3.9z"/>
<path fill="#ff0000" d="M61.73 354.77a2.15 2.15 0 1 0 4.3 0a2.15 2.15 0 1 0 -4.3 0zM62.19 354.68a2.15 2.15 0 1 0 4.3 0a2.15 2.15 0 1 0 -4.3 0zM62.66 354.61a2.15 2.15 0 1 0 4.3 0a2.15 2.15 0 1 0 -4.3 0zM63.13 354.55a2.15 2.15 0 1 0 4.3 0a2.15 2.15 0 1 0 -4.3 0zM63.62 354.5a2.15 2.15 0 1 0 4.3 0a2.15 2.15 0 1 0 -4.3 0zM64.14 354.45a2.15 2.15 0 1 0 4.3 0a2.15 2.15 0 1 0 -4.3 0zM64.66 354.4a2.15 2.15 0 1 0 4.3 0a2.15 2.15 0 1 0 -4.3 0zM65.15 354.36a2.15 2.15 0 1 0 4.3 0a2.15 2.15 0 1 0 -4.3 0zM65.71 354.32a2.15 2.15 0 1 0 4.3 0a2.15 2.15 0 1 0 -4.3 0zM66.18 354.28a2.15 2.15 0 1 0 4.3 0a2.15 2.15 0 1 0 -4.3 0zM66.71 354.24a2.15 2.15 0 1 0 4.3 0a2.15 2.15 0 1 0 -4.3 0zM67.29 354.2a2.15 2.15 0 1 0 4.3 0a2.15 2.15 0 1 0 -4.3 0zM67.94 354.16a2.15 2.15 0 1 0 4.3 0a2.15 2.15 0 1 0 -4.3 0zM68.41 354.13a2.15 2.15 0 1 0 4.3 0a2.15 2.15 0 1 0 -4.3 0zM68.91 354.1a2.15 2.15 0 1 0 4.3 0a2.15 2.15 0 1 0 -4.3 0zM69.45 354.07a2.15 2.15 0 1 0 4.3 0a2.15 2.15 0 1 0 -4.3 0zM70.02 354.04a2.15 2.15 0 1 0 4.3 0a2.15 2.15 0 1 0 -4.3 0zM70.64 354a2.15 2.15 0 1 0 4.3 0a2.15 2.15 0 1 0 -4.3 0zM71.3 353.96a2.15 2.15 0 1 0 4.3 0a2.15 2.15 0 1 0 -4.3 0zM72.01 353.93a2.15 2.15 0 1 0 4.3 0a2.15 2.15 0 1 0 -4.3 0zM72.77 353.89a2.15 2.15 0 1 0 4.3 0a2.15 2.15 0 1 0 -4.3 0zM73.58 353.85a2.15 2.15 0 1 0 4.3 0a2.15 2.15 0 1 0 -4.3 0zM74.46 353.81a2.15 2.15 0 1 0 4.3 0a2.15 2.15 0 1 0 -4.3 0zM74.91 353.78a2.15 2.15 0 1 0 4.3 0a2.15 2.15 0 1 0 -4.3 0zM75.39 353.76a2.15 2.15 0 1 0 4.3 0a2.15 2.15 0 1 0 -4.3 0zM75.88 353.74a2.15 2.15 0 1 0 4.3 0a2.15 2.15 0 1 0 -4.3 0zM76.39 353.72a2.15 2.15 0 1 0 4.3 0a2.15 2.15 0 1 0 -4.3 0zM76.92 353.69a2.15 2.15 0 1 0 4.3 0a2.15 2.15 0 1 0 -4.3 0zM77.46 353.67a2.15 2.15 0 1 0 4.3 0a2.15 2.15 0 1 0 -4.3 0zM78.02 353.65a2.15 2.15 0 1 0 4.3 0a2.15 2.15 0 1 0 -4.3 0zM78.61 353.62a2.15 2.15 0 1 0 4.3 0a2.15 2.15 0 1 0 -4.3 0zM79.21 353.6a2.15 2.15 0 1 0 4.3 0a2.15 2.15 0 1 0 -4.3 0zM79.84 353.57a2.15 2.15 0 1 0 4.3 0a2.15 2.15 0 1 0 -4.3 0zM80.48 353.54a2.15 2.15 0 1 0 4.3 0a2.15 2.15 0 1 0 -4.3 0zM81.15 353.52a2.15 2.15 0 1 0 4.3 0a2.15 2.15 0 1 0 -4.3 0zM81.85 353.49a2.15 2.15 0 1 0 4.3 0a2.15 2.15 0 1 0 -4.3 0zM82.56 353.46a2.15 2.15 0 1 0 4.3 0a2.15 2.15 0 1 0 -4.3 0zM83.31 353.43a2.15 2.15 0 1 0 4.3 0a2.15 2.15 0 1 0 -4.3 0zM84.08 353.41a2.15 2.15 0 1 0 4.3 0a2.15 2.15 0 1 0 -4.3 0zM84.87 353.38a2.15 2.15 0 1 0 4.3 0a2.15 2.15 0 1 0 -4.3 0zM85.69 353.35a2.15 2.15 0 1 0 4.3 0a2.15 2.15 0 1 0 -4.3 0zM86.55 353.32a2.15 2.15 0 1 0 4.3 0a2.15 2.15 0 1 0 -4.3 0zM87.43 353.28a2.15 2.15 0 1 0 4.3 0a2.15 2.15 0 1 0 -4.3 0zM88.34 353.25a2.15 2.15 0 1 0 4.3 0a2.15 2.15 0 1 0 -4.3 0zM89.29 353.22a2.15 2.15 0 1 0 4.3 0a2.15 2.15 0 1 0 -4.3 0zM90.26 353.19a2.15 2.15 0 1 0 4.3 0a2.15 2.15 0 1 0 -4.3 0zM91.28 353.15a2.15 2.15 0 1 0 4.3 0a2.15 2.15 0 1 0 -4.3 0zM92.32 353.12a2.15 2.15 0 1 0 4.3 0a2.15 2.15 0 1 0 -4.3 0zM93.41 353.09a2.15 2.15 0 1 0 4.3 0a2.15 2.15 0 1 0 -4.3 0zM94.53 353.05a2.15 2.15 0 1 0 4.3 0a2.15 2.15 0 1 0 -4.3 0zM95.69 353.01a2.15 2.15 0 1 0 4.3 0a2.15 2.15 0 1 0 -4.3 0zM96.89 352.98a2.15 2.15 0 1 0 4.3 0a2.15 2.15 0 1 0 -4.3 0zM98.14 352.94a2.15 2.15 0 1 0 4.3 0a2.15 2.15 0 1 0 -4.3 0zM99.42 352.9a2.15 2.15 0 1 0 4.3 0a2.15 2.15 0 1 0 -4.3 0zM100.76 352.86a2.15 2.15 0 1 0 4.3 0a2.15 2.15 0 1 0 -4.3 0zM102.14 352.82a2.15 2.15 0 1 0 4.3 0a2.15 2.15 0 1 0 -4.3 0zM103.56 352.78a2.15 2.15 0 1 0 4.3 0a2.15 2.15 0 1 0 -4.3 0zM105.04 352.74a2.15 2.15 0 1 0 4.3 0a2.15 2.15 0 1 0 -4.3 0zM106.57 352.7a2.15 2.15 0 1 0 4.3 0a2.15 2.15 0 1 0 -4.3 0zM108.15 352.65a2.15 2.15 0 1 0 4.3 0a2.15 2.15 0 1 0 -4.3 0zM109.79 352.61a2.15 2.15 0 1 0 4.3 0a2.15 2.15 0 1 0 -4.3 0zM111.49 352.57a2.15 2.15 0 1 0 4.3 0a2.15 2.15 0 1 0 -4.3 0zM113.24 352.52a2.15 2.15 0 1 0 4.3 0a2.15 2.15 0 1 0 -4.3 0zM115.06 352.47a2.15 2.15 0 1 0 4.3 0a2.15 2.15 0 1 0 -4.3 0zM116.94 352.43a2.15 2.15 0 1 0 4.3 0a2.15 2.15 0 1 0 -4.3 0zM118.88 352.38a2.15 2.15 0 1 0 4.3 0a2.15 2.15 0 1 0 -4.3 0zM120.9 352.33a2.15 2.15 0 1 0 4.3 0a2.15 2.15 0 1 0 -4.3 0zM122.98 352.28a2.15 2.15 0 1 0 4.3 0a2.15 2.15 0 1 0 -4.3 0zM125.14 352.23a2.15 2.15 0 1 0 4.3 0a2.15 2.15 0 1 0 -4.3 0zM127.37 352.18a2.15 2.15 0 1 0 4.3 0a2.15 2.15 0 1 0 -4.3 0zM129.68 352.12a2.15 2.15 0 1 0 4.3 0a2.15 2.15 0 1 0 -4.3 0zM132.07 352.07a2.15 2.15 0 1 0 4.3 0a2.15 2.15 0 1 0 -4.3 0zM134.55 352.01a2.15 2.15 0 1 0 4.3 0a2.15 2.15 0 1 0 -4.3 0zM137.11 351.96a2.15 2.15 0 1 0 4.3 0a2.15 2.15 0 1 0 -4.3 0zM139.76 351.9a2.15 2.15 0 1 0 4.3 0a2.15 2.15 0 1 0 -4.3 0zM142.5 351.84a2.15 2.15 0 1 0 4.3 0a2.15 2.15 0 1 0 -4.3 0zM145.34 351.78a2.15 2.15 0 1 0 4.3 0a2.15 2.15 0 1 0 -4.3 0zM148.28 351.72a2.15 2.15 0 1 0 4.3 0a2.15 2.15 0 1 0 -4.3 0zM151.33 351.66a2.15 2.15 0 1 0 4.3 0a2.15 2.15 0 1 0 -4.3 0zM154.48 351.6a2.15 2.15 0 1 0 4.3 0a2.15 2.15 0 1 0 -4.3 0zM157.74 351.53a2.15 2.15 0 1 0 4.3 0a2.15 2.15 0 1 0 -4.3 0zM161.11 351.47a2.15 2.15 0 1 0 4.3 0a2.15 2.15 0 1 0 -4.3 0zM164.6 351.4a2.15 2.15 0 1 0 4.3 0a2.15 2.15 0 1 0 -4.3 0zM168.21 351.33a2.15 2.15 0 1 0 4.3 0a2.15 2.15 0 1 0 -4.3 0zM171.95 351.26a2.15 2.15 0 1 0 4.3 0a2.15 2.15 0 1 0 -4.3 0zM175.83 351.19a2.15 2.15 0 1 0 4.3 0a2.15 2.15 0 1 0 -4.3 0zM179.83 351.12a2.15 2.15 0 1 0 4.3 0a2.15 2.15 0 1 0 -4.3 0zM183.98 351.04a2.15 2.15 0 1 0 4.3 0a2.15 2.15 0 1 0 -4.3 0zM188.27 350.97a2.15 2.15 0 1 0 4.3 0a2.15 2.15 0 1 0 -4.3 0zM192.71 350.89a2.15 2.15 0 1 0 4.3 0a2.15 2.15 0 1 0 -4.3 0zM197.31 350.81a2.15 2.15 0 1 0 4.3 0a2.15 2.15 0 1 0 -4.3 0zM202.07 350.74a2.15 2.15 0 1 0 4.3 0a2.15 2.15 0 1 0 -4.3 0zM207 350.65a2.15 2.15 0 1 0 4.3 0a2.15 2.15 0 1 0 -4.3 0zM212.09 350.57a2.15 2.15 0 1 0 4.3 0a2.15 2.15 0 1 0 -4.3 0zM217.37 350.49a2.15 2.15 0 1 0 4.3 0a2.15 2.15 0 1 0 -4.3 0zM222.83 350.4a2.15 2.15 0 1 0 4.3 0a2.15 2.15 0 1 0 -4.3 0zM228.48 350.31a2.15 2.15 0 1 0 4.3 0a2.15 2.15 0 1 0 -4.3 0zM234.33 350.23a2.15 2.15 0 1 0 4.3 0a2.15 2.15 0 1 0 -4.3 0zM240.39 350.13a2.15 2.15 0 1 0 4.3 0a2.15 2.15 0 1 0 -4.3 0zM246.65 350.04a2.15 2.15 0 1 0 4.3 0a2.15 2.15 0 1 0 -4.3 0zM253.14 349.95a2.15 2.15 0 1 0 4.3 0a2.15 2.15 0 1 0 -4.3 0zM259.85 349.85a2.15 2.15 0 1 0 4.3 0a2.15 2.15 0 1 0 -4.3 0z"/>
<path fill="#0000ff" d="M63.88 351.32l2.4 4.1h-4.8zM64.34 351.18l2.4 4.1h-4.8zM64.81 351.07l2.4 4.1h-4.8zM65.28 350.98l2.4 4.1h-4.8zM65.77 350.89l2.4 4.1h-4.8zM66.29 350.81l2.4 4.1h-4.8zM66.81 350.73l2.4 4.1h-4.8zM67.3 350.66l2.4 4.1h-4.8zM67.86 350.59l2.4 4.1h-4.8zM68.33 350.53l2.4 4.1h-4.8zM68.86 350.47l2.4 4.1h-4.8zM69.44 350.4l2.4 4.1h-4.8zM70.09 350.33l2.4 4.1h-4.8zM70.56 350.28l2.4 4.1h-4.8zM71.06 350.23l2.4 4.1h-4.8zM71.6 350.18l2.4 4.1h-4.8zM72.17 350.12l2.4 4.1h-4.8zM72.79 350.07l2.4 4.1h-4.8zM73.45 350.01l2.4 4.1h-4.8zM74.16 349.94l2.4 4.1h-4.8zM74.92 349.88l2.4 4.1h-4.8zM75.73 349.81l2.4 4.1h-4.8zM76.61 349.74l2.4 4.1h-4.8zM77.06 349.71l2.4 4.1h-4.8zM77.54 349.67l2.4 4.1h-4.8zM78.03 349.63l2.4 4.1h-4.8zM78.54 349.59l2.4 4.1h-4.8zM79.07 349.55l2.4 4.1h-4.8zM79.61 349.51l2.4 4.1h-4.8zM80.17 349.47l2.4 4.1h-4.8zM80.76 349.43l2.4 4.1h-4.8zM81.36 349.39l2.4 4.1h-4.8zM81.99 349.35l2.4 4.1h-4.8zM82.63 349.3l2.4 4.1h-4.8zM83.3 349.26l2.4 4.1h-4.8zM84 349.21l2.4 4.1h-4.8zM84.71 349.16l2.4 4.1h-4.8zM85.46 349.12l2.4 4.1h-4.8zM86.23 349.07l2.4 4.1h-4.8zM87.02 349.02l2.4 4.1h-4.8zM87.84 348.97l2.4 4.1h-4.8zM88.7 348.92l2.4 4.1h-4.8zM89.58 348.86l2.4 4.1h-4.8zM90.49 348.81l2.4 4.1h-4.8zM91.44 348.75l2.4 4.1h-4.8zM92.41 348.7l2.4 4.1h-4.8zM93.43 348.64l2.4 4.1h-4.8zM94.47 348.58l2.4 4.1h-4.8zM95.56 348.52l2.4 4.1h-4.8zM96.68 348.46l2.4 4.1h-4.8zM97.84 348.4l2.4 4.1h-4.8zM99.04 348.34l2.4 4.1h-4.8zM100.29 348.27l2.4 4.1h-4.8zM101.57 348.21l2.4 4.1h-4.8zM102.91 348.14l2.4 4.1h-4.8zM104.29 348.07l2.4 4.1h-4.8zM105.71 348l2.4 4.1h-4.8zM107.19 347.93l2.4 4.1h-4.8zM108.72 347.86l2.4 4.1h-4.8zM110.3 347.79l2.4 4.1h-4.8zM111.94 347.71l2.4 4.1h-4.8zM113.64 347.64l2.4 4.1h-4.8zM115.39 347.56l2.4 4.1h-4.8zM117.21 347.48l2.4 4.1h-4.8zM119.09 347.4l2.4 4.1h-4.8zM121.03 347.31l2.4 4.1h-4.8zM123.05 347.23l2.4 4.1h-4.8zM125.13 347.14l2.4 4.1h-4.8zM127.29 347.05l2.4 4.1h-4.8zM129.52 346.96l2.4 4.1h-4.8zM131.83 346.87l2.4 4.1h-4.8zM134.22 346.78l2.4 4.1h-4.8zM136.7 346.68l2.4 4.1h-4.8zM139.26 346.59l2.4 4.1h-4.8zM141.91 346.49l2.4 4.1h-4.8zM144.65 346.39l2.4 4.1h-4.8zM147.49 346.28l2.4 4.1h-4.8zM150.43 346.18l2.4 4.1h-4.8zM153.48 346.07l2.4 4.1h-4.8zM156.63 345.96l2.4 4.1h-4.8zM159.89 345.85l2.4 4.1h-4.8zM163.26 345.74l2.4 4.1h-4.8zM166.75 345.62l2.4 4.1h-4.8zM170.36 345.5l2.4 4.1h-4.8zM174.1 345.38l2.4 4.1h-4.8zM177.98 345.26l2.4 4.1h-4.8zM181.98 345.13l2.4 4.1h-4.8zM186.13 345l2.4 4.1h-4.8zM190.42 344.87l2.4 4.1h-4.8zM194.86 344.74l2.4 4.1h-4.8zM199.46 344.6l2.4 4.1h-4.8zM204.22 344.46l2.4 4.1h-4.8zM209.15 344.32l2.4 4.1h-4.8zM214.24 344.18l2.4 4.1h-4.8zM219.52 344.03l2.4 4.1h-4.8zM224.98 343.88l2.4 4.1h-4.8zM230.63 343.73l2.4 4.1h-4.8zM236.48 343.57l2.4 4.1h-4.8zM242.54 343.41l2.4 4.1h-4.8zM248.8 343.25l2.4 4.1h-4.8zM255.29 343.08l2.4 4.1h-4.8zM262 342.91l2.4 4.1h-4.8z"/>
<path fill="#ff00ff" d="M61.13 352.78h4.8l-2.4 4.1zM61.24 352.33h4.8l-2.4 4.1zM61.49 351.87h4.8l-2.4 4.1zM61.94 351.4h4.8l-2.4 4.1zM62.41 351.06h4.8l-2.4 4.1zM62.88 350.8h4.8l-2.4 4.1zM63.37 350.58h4.8l-2.4 4.1zM63.89 350.38h4.8l-2.4 4.1zM64.41 350.19h4.8l-2.4 4.1zM64.9 350.04h4.8l-2.4 4.1zM65.46 349.88h4.8l-2.4 4.1zM65.93 349.76h4.8l-2.4 4.1zM66.46 349.63h4.8l-2.4 4.1zM67.04 349.49h4.8l-2.4 4.1zM67.69 349.36h4.8l-2.4 4.1zM68.16 349.26h4.8l-2.4 4.1zM68.66 349.16h4.8l-2.4 4.1zM69.2 349.07h4.8l-2.4 4.1zM69.77 348.96h4.8l-2.4 4.1zM70.39 348.86h4.8l-2.4 4.1zM71.05 348.76h4.8l-2.4 4.1zM71.76 348.65h4.8l-2.4 4.1zM72.52 348.54h4.8l-2.4 4.1zM73.33 348.42h4.8l-2.4 4.1zM74.21 348.31h4.8l-2.4 4.1zM74.66 348.25h4.8l-2.4 4.1zM75.14 348.19h4.8l-2.4 4.1zM75.63 348.13h4.8l-2.4 4.1zM76.14 348.07h4.8l-2.4 4.1zM76.67 348.01h4.8l-2.4 4.1zM77.21 347.95h4.8l-2.4 4.1zM77.77 347.88h4.8l-2.4 4.1zM78.36 347.82h4.8l-2.4 4.1zM78.96 347.75h4.8l-2.4 4.1zM79.59 347.69h4.8l-2.4 4.1zM80.23 347.62h4.8l-2.4 4.1zM80.9 347.56h4.8l-2.4 4.1zM81.6 347.49h4.8l-2.4 4.1zM82.31 347.42h4.8l-2.4 4.1zM83.06 347.35h4.8l-2.4 4.1zM83.83 347.28h4.8l-2.4 4.1zM84.62 347.21h4.8l-2.4 4.1zM85.44 347.14h4.8l-2.4 4.1zM86.3 347.07h4.8l-2.4 4.1zM87.18 347h4.8l-2.4 4.1zM88.09 346.92h4.8l-2.4 4.1zM89.04 346.85h4.8l-2.4 4.1zM90.01 346.78h4.8l-2.4 4.1zM91.03 346.7h4.8l-2.4 4.1zM92.07 346.62h4.8l-2.4 4.1zM93.16 346.54h4.8l-2.4 4.1zM94.28 346.47h4.8l-2.4 4.1zM95.44 346.39h4.8l-2.4 4.1zM96.64 346.31h4.8l-2.4 4.1zM97.89 346.23h4.8l-2.4 4.1zM99.17 346.14h4.8l-2.4 4.1zM100.51 346.06h4.8l-2.4 4.1zM101.89 345.98h4.8l-2.4 4.1zM103.31 345.89h4.8l-2.4 4.1zM104.79 345.81h4.8l-2.4 4.1zM106.32 345.72h4.8l-2.4 4.1zM107.9 345.63h4.8l-2.4 4.1zM109.54 345.54h4.8l-2.4 4.1zM111.24 345.45h4.8l-2.4 4.1zM112.99 345.36h4.8l-2.4 4.1zM114.81 345.27h4.8l-2.4 4.1zM116.69 345.18h4.8l-2.4 4.1zM118.63 345.08h4.8l-2.4 4.1zM120.65 344.99h4.8l-2.4 4.1zM122.73 344.89h4.8l-2.4 4.1zM124.89 344.79h4.8l-2.4 4.1zM127.12 344.7h4.8l-2.4 4.1zM129.43 344.6h4.8l-2.4 4.1zM131.82 344.5h4.8l-2.4 4.1zM134.3 344.39h4.8l-2.4 4.1zM136.86 344.29h4.8l-2.4 4.1zM139.51 344.19h4.8l-2.4 4.1zM142.25 344.08h4.8l-2.4 4.1zM145.09 343.98h4.8l-2.4 4.1zM148.03 343.87h4.8l-2.4 4.1zM151.08 343.76h4.8l-2.4 4.1zM154.23 343.65h4.8l-2.4 4.1zM157.49 343.54h4.8l-2.4 4.1zM160.86 343.43h4.8l-2.4 4.1zM164.35 343.31h4.8l-2.4 4.1zM167.96 343.2h4.8l-2.4 4.1zM171.7 343.08h4.8l-2.4 4.1zM175.58 342.97h4.8l-2.4 4.1zM179.58 342.85h4.8l-2.4 4.1zM183.73 342.73h4.8l-2.4 4.1zM188.02 342.61h4.8l-2.4 4.1zM192.46 342.48h4.8l-2.4 4.1zM197.06 342.36h4.8l-2.4 4.1zM201.82 342.23h4.8l-2.4 4.1zM206.75 342.11h4.8l-2.4 4.1zM211.84 341.98h4.8l-2.4 4.1zM217.12 341.85h4.8l-2.4 4.1zM222.58 341.72h4.8l-2.4 4.1zM228.23 341.58h4.8l-2.4 4.1zM234.08 341.45h4.8l-2.4 4.1zM240.14 341.31h4.8l-2.4 4.1zM246.4 341.18h4.8l-2.4 4.1zM252.89 341.04h4.8l-2.4 4.1zM259.6 340.9h4.8l-2.4 4.1z"/>
<path fill="#008000" d="M63.54 349.77l2.5 2.5-2.5 2.5-2.5-2.5zM63.68 349.32l2.5 2.5-2.5 2.5-2.5-2.5zM63.93 348.85l2.5 2.5-2.5 2.5-2.5-2.5zM64.34 348.39l2.5 2.5-2.5 2.5-2.5-2.5zM64.81 348l2.5 2.5-2.5 2.5-2.5-2.5zM65.28 347.68l2.5 2.5-2.5 2.5-2.5-2.5zM65.77 347.41l2.5 2.5-2.5 2.5-2.5-2.5zM66.29 347.15l2.5 2.5-2.5 2.5-2.5-2.5zM66.81 346.91l2.5 2.5-2.5 2.5-2.5-2.5zM67.3 346.71l2.5 2.5-2.5 2.5-2.5-2.5zM67.86 346.5l2.5 2.5-2.5 2.5-2.5-2.5zM68.33 346.34l2.5 2.5-2.5 2.5-2.5-2.5zM68.86 346.16l2.5 2.5-2.5 2.5-2.5-2.5zM69.44 345.98l2.5 2.5-2.5 2.5-2.5-2.5zM70.09 345.8l2.5 2.5-2.5 2.5-2.5-2.5zM70.56 345.67l2.5 2.5-2.5 2.5-2.5-2.5zM71.06 345.53l2.5 2.5-2.5 2.5-2.5-2.5zM71.6 345.39l2.5 2.5-2.5 2.5-2.5-2.5zM72.17 345.25l2.5 2.5-2.5 2.5-2.5-2.5zM72.79 345.11l2.5 2.5-2.5 2.5-2.5-2.5zM73.45 344.96l2.5 2.5-2.5 2.5-2.5-2.5zM74.16 344.8l2.5 2.5-2.5 2.5-2.5-2.5zM74.92 344.65l2.5 2.5-2.5 2.5-2.5-2.5zM75.73 344.48l2.5 2.5-2.5 2.5-2.5-2.5zM76.61 344.32l2.5 2.5-2.5 2.5-2.5-2.5zM77.06 344.23l2.5 2.5-2.5 2.5-2.5-2.5zM77.54 344.14l2.5 2.5-2.5 2.5-2.5-2.5zM78.03 344.06l2.5 2.5-2.5 2.5-2.5-2.5zM78.54 343.97l2.5 2.5-2.5 2.5-2.5-2.5zM79.07 343.88l2.5 2.5-2.5 2.5-2.5-2.5zM79.61 343.79l2.5 2.5-2.5 2.5-2.5-2.5zM80.17 343.69l2.5 2.5-2.5 2.5-2.5-2.5zM80.76 343.6l2.5 2.5-2.5 2.5-2.5-2.5zM81.36 343.5l2.5 2.5-2.5 2.5-2.5-2.5zM81.99 343.41l2.5 2.5-2.5 2.5-2.5-2.5zM82.63 343.31l2.5 2.5-2.5 2.5-2.5-2.5zM83.3 343.21l2.5 2.5-2.5 2.5-2.5-2.5zM84 343.11l2.5 2.5-2.5 2.5-2.5-2.5zM84.71 343l2.5 2.5-2.5 2.5-2.5-2.5zM85.46 342.9l2.5 2.5-2.5 2.5-2.5-2.5zM86.23 342.79l2.5 2.5-2.5 2.5-2.5-2.5zM87.02 342.69l2.5 2.5-2.5 2.5-2.5-2.5zM87.84 342.58l2.5 2.5-2.5 2.5-2.5-2.5zM88.7 342.47l2.5 2.5-2.5 2.5-2.5-2.5zM89.58 342.36l2.5 2.5-2.5 2.5-2.5-2.5zM90.49 342.24l2.5 2.5-2.5 2.5-2.5-2.5zM91.44 342.13l2.5 2.5-2.5 2.5-2.5-2.5zM92.41 342.01l2.5 2.5-2.5 2.5-2.5-2.5zM93.43 341.9l2.5 2.5-2.5 2.5-2.5-2.5zM94.47 341.78l2.5 2.5-2.5 2.5-2.5-2.5zM95.56 341.65l2.5 2.5-2.5 2.5-2.5-2.5zM96.68 341.53l2.5 2.5-2.5 2.5-2.5-2.5zM97.84 341.41l2.5 2.5-2.5 2.5-2.5-2.5zM99.04 341.28l2.5 2.5-2.5 2.5-2.5-2.5zM100.29 341.15l2.5 2.5-2.5 2.5-2.5-2.5zM101.57 341.02l2.5 2.5-2.5 2.5-2.5-2.5zM102.91 340.89l2.5 2.5-2.5 2.5-2.5-2.5zM104.29 340.76l2.5 2.5-2.5 2.5-2.5-2.5zM105.71 340.62l2.5 2.5-2.5 2.5-2.5-2.5zM107.19 340.48l2.5 2.5-2.5 2.5-2.5-2.5zM108.72 340.34l2.5 2.5-2.5 2.5-2.5-2.5zM110.3 340.2l2.5 2.5-2.5 2.5-2.5-2.5zM111.94 340.06l2.5 2.5-2.5 2.5-2.5-2.5zM113.64 339.91l2.5 2.5-2.5 2.5-2.5-2.5zM115.39 339.76l2.5 2.5-2.5 2.5-2.5-2.5zM117.21 339.61l2.5 2.5-2.5 2.5-2.5-2.5zM119.09 339.46l2.5 2.5-2.5 2.5-2.5-2.5zM121.03 339.31l2.5 2.5-2.5 2.5-2.5-2.5zM123.05 339.15l2.5 2.5-2.5 2.5-2.5-2.5zM125.13 338.99l2.5 2.5-2.5 2.5-2.5-2.5zM127.29 338.83l2.5 2.5-2.5 2.5-2.5-2.5zM129.52 338.67l2.5 2.5-2.5 2.5-2.5-2.5zM131.83 338.5l2.5 2.5-2.5 2.5-2.5-2.5zM134.22 338.34l2.5 2.5-2.5 2.5-2.5-2.5zM136.7 338.17l2.5 2.5-2.5 2.5-2.5-2.5zM139.26 337.99l2.5 2.5-2.5 2.5-2.5-2.5zM141.91 337.82l2.5 2.5-2.5 2.5-2.5-2.5zM144.65 337.64l2.5 2.5-2.5 2.5-2.5-2.5zM147.49 337.46l2.5 2.5-2.5 2.5-2.5-2.5zM150.43 337.28l2.5 2.5-2.5 2.5-2.5-2.5zM153.48 337.1l2.5 2.5-2.5 2.5-2.5-2.5zM156.63 336.91l2.5 2.5-2.5 2.5-2.5-2.5zM159.89 336.72l2.5 2.5-2.5 2.5-2.5-2.5zM163.26 336.53l2.5 2.5-2.5 2.5-2.5-2.5zM166.75 336.33l2.5 2.5-2.5 2.5-2.5-2.5zM170.36 336.13l2.5 2.5-2.5 2.5-2.5-2.5zM174.1 335.93l2.5 2.5-2.5 2.5-2.5-2.5zM177.98 335.73l2.5 2.5-2.5 2.5-2.5-2.5zM181.98 335.52l2.5 2.5-2.5 2.5-2.5-2.5zM186.13 335.31l2.5 2.5-2.5 2.5-2.5-2.5zM190.42 335.1l2.5 2.5-2.5 2.5-2.5-2.5zM194.86 334.88l2.5 2.5-2.5 2.5-2.5-2.5zM199.46 334.66l2.5 2.5-2.5 2.5-2.5-2.5zM204.22 334.44l2.5 2.5-2.5 2.5-2.5-2.5zM209.15 334.22l2.5 2.5-2.5 2.5-2.5-2.5zM214.24 333.99l2.5 2.5-2.5 2.5-2.5-2.5zM219.52 333.76l2.5 2.5-2.5 2.5-2.5-2.5zM224.98 333.52l2.5 2.5-2.5 2.5-2.5-2.5zM230.63 333.28l2.5 2.5-2.5 2.5-2.5-2.5zM236.48 333.04l2.5 2.5-2.5 2.5-2.5-2.5zM242.54 332.8l2.5 2.5-2.5 2.5-2.5-2.5zM248.8 332.55l2.5 2.5-2.5 2.5-2.5-2.5zM255.29 332.3l2.5 2.5-2.5 2.5-2.5-2.5zM262 332.04l2.5 2.5-2.5 2.5-2.5-2.5z"/>
<path fill="#000080" d="M61.28 348.32l4-2.3v4.6zM61.74 348.1l4-2.3v4.6zM62.21 347.91l4-2.3v4.6zM62.68 347.74l4-2.3v4.6zM63.17 347.57l4-2.3v4.6zM63.69 347.4l4-2.3v4.6zM64.21 347.24l4-2.3v4.6zM64.7 347.1l4-2.3v4.6zM65.26 346.94l4-2.3v4.6zM65.73 346.81l4-2.3v4.6zM66.26 346.67l4-2.3v4.6zM66.84 346.51l4-2.3v4.6zM67.49 346.35l4-2.3v4.6zM67.96 346.24l4-2.3v4.6zM68.46 346.11l4-2.3v4.6zM69 345.98l4-2.3v4.6zM69.57 345.85l4-2.3v4.6zM70.19 345.71l4-2.3v4.6zM70.85 345.56l4-2.3v4.6zM71.56 345.4l4-2.3v4.6zM72.32 345.24l4-2.3v4.6zM73.13 345.06l4-2.3v4.6zM74.01 344.88l4-2.3v4.6zM74.46 344.79l4-2.3v4.6zM74.94 344.69l4-2.3v4.6zM75.43 344.59l4-2.3v4.6zM75.94 344.49l4-2.3v4.6zM76.47 344.38l4-2.3v4.6zM77.01 344.27l4-2.3v4.6zM77.57 344.16l4-2.3v4.6zM78.16 344.05l4-2.3v4.6zM78.76 343.94l4-2.3v4.6zM79.39 343.82l4-2.3v4.6zM80.03 343.7l4-2.3v4.6zM80.7 343.57l4-2.3v4.6zM81.4 343.44l4-2.3v4.6zM82.11 343.31l4-2.3v4.6zM82.86 343.18l4-2.3v4.6zM83.63 343.04l4-2.3v4.6zM84.42 342.9l4-2.3v4.6zM85.24 342.75l4-2.3v4.6zM86.1 342.6l4-2.3v4.6zM86.98 342.45l4-2.3v4.6zM87.89 342.29l4-2.3v4.6zM88.84 342.13l4-2.3v4.6zM89.81 341.97l4-2.3v4.6zM90.83 341.8l4-2.3v4.6zM91.87 341.63l4-2.3v4.6zM92.96 341.45l4-2.3v4.6zM94.08 341.27l4-2.3v4.6zM95.24 341.08l4-2.3v4.6zM96.44 340.89l4-2.3v4.6zM97.69 340.69l4-2.3v4.6zM98.97 340.49l4-2.3v4.6zM100.31 340.28l4-2.3v4.6zM101.69 340.07l4-2.3v4.6zM103.11 339.85l4-2.3v4.6zM104.59 339.63l4-2.3v4.6zM106.12 339.4l4-2.3v4.6zM107.7 339.17l4-2.3v4.6zM109.34 338.93l4-2.3v4.6zM111.04 338.68l4-2.3v4.6zM112.79 338.43l4-2.3v4.6zM114.61 338.17l4-2.3v4.6zM116.49 337.9l4-2.3v4.6zM118.43 337.63l4-2.3v4.6zM120.45 337.35l4-2.3v4.6zM122.53 337.07l4-2.3v4.6zM124.69 336.77l4-2.3v4.6zM126.92 336.47l4-2.3v4.6zM129.23 336.16l4-2.3v4.6zM131.62 335.85l4-2.3v4.6zM134.1 335.52l4-2.3v4.6zM136.66 335.19l4-2.3v4.6zM139.31 334.85l4-2.3v4.6zM142.05 334.5l4-2.3v4.6zM144.89 334.14l4-2.3v4.6zM147.83 333.77l4-2.3v4.6zM150.88 333.39l4-2.3v4.6zM154.03 333l4-2.3v4.6zM157.29 332.61l4-2.3v4.6zM160.66 332.2l4-2.3v4.6zM164.15 331.78l4-2.3v4.6zM167.76 331.35l4-2.3v4.6zM171.5 330.91l4-2.3v4.6zM175.38 330.46l4-2.3v4.6zM179.38 330l4-2.3v4.6zM183.53 329.53l4-2.3v4.6zM187.82 329.04l4-2.3v4.6zM192.26 328.55l4-2.3v4.6zM196.86 328.03l4-2.3v4.6zM201.62 327.51l4-2.3v4.6zM206.55 326.97l4-2.3v4.6zM211.64 326.42l4-2.3v4.6zM216.92 325.86l4-2.3v4.6zM222.38 325.28l4-2.3v4.6zM228.03 324.69l4-2.3v4.6zM233.88 324.08l4-2.3v4.6zM239.94 323.45l4-2.3v4.6zM246.2 322.81l4-2.3v4.6zM252.69 322.16l4-2.3v4.6zM259.4 321.48l4-2.3v4.6z"/></g>
<rect x="59.5" y="205.5" width="208.3" height="153.4" fill="none" stroke="#2a2a2a" stroke-width="1.3"/>
<path d="M63.5 358.9v3.2M63.5 205.5v-3.2M124.8 358.9v3.2M124.8 205.5v-3.2M186.2 358.9v3.2M186.2 205.5v-3.2M247.5 358.9v3.2M247.5 205.5v-3.2M94.2 358.9v1.8M94.2 205.5v-1.8M155.5 358.9v1.8M155.5 205.5v-1.8M216.8 358.9v1.8M216.8 205.5v-1.8M59.5 356.1h-3.2M267.8 356.1h3.2M59.5 318.5h-3.2M267.8 318.5h3.2M59.5 280.8h-3.2M267.8 280.8h3.2M59.5 243.2h-3.2M267.8 243.2h3.2M59.5 205.5h-3.2M267.8 205.5h3.2M59.5 337.3h-1.8M267.8 337.3h1.8M59.5 299.6h-1.8M267.8 299.6h1.8M59.5 262.0h-1.8M267.8 262.0h1.8M59.5 224.3h-1.8M267.8 224.3h1.8" stroke="#2a2a2a" stroke-width="1.1" fill="none"/>
<g font-family='"Liberation Sans", sans-serif' font-size="10" fill="#1e1e1e" stroke="#1e1e1e" stroke-width="0.15"><text transform="translate(54.60 359.30) scale(1.045 1)" text-anchor="end">0.0</text><text transform="translate(54.50 322.65) scale(1.045 1)" text-anchor="end">5.0x10<tspan dy="-4.8" font-size="6.4">2</tspan></text><text transform="translate(54.50 285.00) scale(1.045 1)" text-anchor="end">1.0x10<tspan dy="-4.8" font-size="6.4">3</tspan></text><text transform="translate(54.50 247.35) scale(1.045 1)" text-anchor="end">1.5x10<tspan dy="-4.8" font-size="6.4">3</tspan></text><text transform="translate(54.50 209.70) scale(1.045 1)" text-anchor="end">2.0x10<tspan dy="-4.8" font-size="6.4">3</tspan></text><text transform="translate(63.50 372.60) scale(1.045 1)" text-anchor="middle">0.0</text><text transform="translate(124.83 374.20) scale(1.045 1)" text-anchor="middle">3.0x10<tspan dy="-4.8" font-size="6.4">5</tspan></text><text transform="translate(186.17 374.20) scale(1.045 1)" text-anchor="middle">6.0x10<tspan dy="-4.8" font-size="6.4">5</tspan></text><text transform="translate(247.50 374.20) scale(1.045 1)" text-anchor="middle">9.0x10<tspan dy="-4.8" font-size="6.4">5</tspan></text></g>
<g font-family='"Liberation Sans", sans-serif' font-size="9.6" fill="#1e1e1e" stroke="#1e1e1e" stroke-width="0.15"><text transform="translate(5.40 386.80) scale(1.045 1)" text-anchor="start">(c)</text></g>
<g font-family='"Liberation Serif", serif' font-size="10" fill="#1e1e1e" stroke="#1e1e1e" stroke-width="0.2"><text transform="translate(157.80 384.40) scale(1.000 1)" text-anchor="start"><tspan font-style="italic">f</tspan>,<tspan dx="1.3" font-size="10.6"> (Hz)</tspan></text></g>
<g transform="translate(15.6 308.3) rotate(-90)" font-family='"Liberation Serif", serif' font-size="10" fill="#1e1e1e" stroke="#1e1e1e" stroke-width="0.1"><text x="0" y="0">10</text><text x="10.2" y="-4.0" font-size="6.6">6</text><text x="15.5" y="0" font-style="italic">x</text><text x="24.2" y="0" font-size="11.5">&#963;</text><text x="30.0" y="0">&#8242;</text><text x="33.4" y="0">,</text><text x="38.2" y="0" textLength="34.4" lengthAdjust="spacingAndGlyphs">(1/&#937; m)</text></g>
<g font-family='"Liberation Sans", sans-serif' font-size="9" fill="#1e1e1e" stroke="#1e1e1e" stroke-width="0.15"><path fill="#000000" stroke="none" d="M210.45 212.35h4.29v4.29h-4.29z"/><text transform="translate(225.30 217.60) scale(1.000 1)" text-anchor="start"><tspan font-family='"Liberation Serif", serif' font-style="italic" font-size="9.0" stroke="none">B</tspan> = 0.0 T</text><path fill="#ff0000" stroke="none" d="M210.23 225.7a2.37 2.37 0 1 0 4.73 0a2.37 2.37 0 1 0 -4.73 0z"/><text transform="translate(225.30 228.80) scale(1.000 1)" text-anchor="start"><tspan font-family='"Liberation Serif", serif' font-style="italic" font-size="9.0" stroke="none">B</tspan> = 0.1 T</text><path fill="#0000ff" stroke="none" d="M212.6 233.94l2.64 4.51h-5.28z"/><text transform="translate(225.30 239.90) scale(1.000 1)" text-anchor="start"><tspan font-family='"Liberation Serif", serif' font-style="italic" font-size="9.0" stroke="none">B</tspan> = 0.2 T</text><path fill="#ff00ff" stroke="none" d="M209.96 246.45h5.28l-2.64 4.51z"/><text transform="translate(225.30 251.20) scale(1.000 1)" text-anchor="start"><tspan font-family='"Liberation Serif", serif' font-style="italic" font-size="9.0" stroke="none">B</tspan> = 0.3 T</text><path fill="#008000" stroke="none" d="M212.6 256.45l2.75 2.75-2.75 2.75-2.75-2.75z"/><text transform="translate(225.30 262.30) scale(1.000 1)" text-anchor="start"><tspan font-family='"Liberation Serif", serif' font-style="italic" font-size="9.0" stroke="none">B</tspan> = 0.4 T</text><path fill="#000080" stroke="none" d="M209.74 270.2l4.4-2.53v5.06z"/><text transform="translate(225.30 273.30) scale(1.000 1)" text-anchor="start"><tspan font-family='"Liberation Serif", serif' font-style="italic" font-size="9.0" stroke="none">B</tspan> = 0.5 T</text></g>
<clipPath id="cpd"><rect x="331.6" y="205.5" width="208.4" height="153.3"/></clipPath>
<g clip-path="url(#cpd)"><path fill="#000000" d="M334.03 350.3h3.9v3.9h-3.9zM334.49 350.06h3.9v3.9h-3.9zM334.96 349.87h3.9v3.9h-3.9zM335.43 349.71h3.9v3.9h-3.9zM335.92 349.57h3.9v3.9h-3.9zM336.44 349.43h3.9v3.9h-3.9zM336.96 349.3h3.9v3.9h-3.9zM337.45 349.2h3.9v3.9h-3.9zM338.01 349.08h3.9v3.9h-3.9zM338.49 348.99h3.9v3.9h-3.9zM339.01 348.89h3.9v3.9h-3.9zM339.6 348.78h3.9v3.9h-3.9zM340.24 348.68h3.9v3.9h-3.9zM340.71 348.6h3.9v3.9h-3.9zM341.22 348.52h3.9v3.9h-3.9zM341.75 348.44h3.9v3.9h-3.9zM342.33 348.35h3.9v3.9h-3.9zM342.95 348.27h3.9v3.9h-3.9zM343.61 348.18h3.9v3.9h-3.9zM344.32 348.08h3.9v3.9h-3.9zM345.08 347.99h3.9v3.9h-3.9zM345.9 347.89h3.9v3.9h-3.9zM346.77 347.78h3.9v3.9h-3.9zM347.23 347.73h3.9v3.9h-3.9zM347.7 347.67h3.9v3.9h-3.9zM348.2 347.62h3.9v3.9h-3.9zM348.7 347.56h3.9v3.9h-3.9zM349.23 347.5h3.9v3.9h-3.9zM349.78 347.45h3.9v3.9h-3.9zM350.34 347.39h3.9v3.9h-3.9zM350.93 347.33h3.9v3.9h-3.9zM351.53 347.26h3.9v3.9h-3.9zM352.16 347.2h3.9v3.9h-3.9zM352.8 347.14h3.9v3.9h-3.9zM353.47 347.07h3.9v3.9h-3.9zM354.17 347.01h3.9v3.9h-3.9zM354.89 346.94h3.9v3.9h-3.9zM355.63 346.87h3.9v3.9h-3.9zM356.4 346.8h3.9v3.9h-3.9zM357.19 346.73h3.9v3.9h-3.9zM358.02 346.66h3.9v3.9h-3.9zM358.87 346.58h3.9v3.9h-3.9zM359.75 346.51h3.9v3.9h-3.9zM360.67 346.43h3.9v3.9h-3.9zM361.61 346.36h3.9v3.9h-3.9zM362.59 346.28h3.9v3.9h-3.9zM363.61 346.2h3.9v3.9h-3.9zM364.65 346.12h3.9v3.9h-3.9zM365.74 346.03h3.9v3.9h-3.9zM366.86 345.95h3.9v3.9h-3.9zM368.02 345.86h3.9v3.9h-3.9zM369.23 345.77h3.9v3.9h-3.9zM370.47 345.69h3.9v3.9h-3.9zM371.76 345.59h3.9v3.9h-3.9zM373.1 345.5h3.9v3.9h-3.9zM374.48 345.41h3.9v3.9h-3.9zM375.91 345.31h3.9v3.9h-3.9zM377.38 345.22h3.9v3.9h-3.9zM378.92 345.12h3.9v3.9h-3.9zM380.5 345.02h3.9v3.9h-3.9zM382.14 344.91h3.9v3.9h-3.9zM383.84 344.81h3.9v3.9h-3.9zM385.59 344.7h3.9v3.9h-3.9zM387.41 344.59h3.9v3.9h-3.9zM389.29 344.48h3.9v3.9h-3.9zM391.24 344.37h3.9v3.9h-3.9zM393.26 344.26h3.9v3.9h-3.9zM395.34 344.14h3.9v3.9h-3.9zM397.5 344.02h3.9v3.9h-3.9zM399.74 343.9h3.9v3.9h-3.9zM402.05 343.78h3.9v3.9h-3.9zM404.44 343.66h3.9v3.9h-3.9zM406.92 343.53h3.9v3.9h-3.9zM409.48 343.4h3.9v3.9h-3.9zM412.14 343.27h3.9v3.9h-3.9zM414.89 343.14h3.9v3.9h-3.9zM417.73 343h3.9v3.9h-3.9zM420.67 342.86h3.9v3.9h-3.9zM423.72 342.72h3.9v3.9h-3.9zM426.87 342.58h3.9v3.9h-3.9zM430.13 342.43h3.9v3.9h-3.9zM433.51 342.28h3.9v3.9h-3.9zM437 342.13h3.9v3.9h-3.9zM440.62 341.98h3.9v3.9h-3.9zM444.37 341.82h3.9v3.9h-3.9zM448.24 341.66h3.9v3.9h-3.9zM452.25 341.5h3.9v3.9h-3.9zM456.4 341.34h3.9v3.9h-3.9zM460.7 341.17h3.9v3.9h-3.9zM465.15 341h3.9v3.9h-3.9zM469.75 340.82h3.9v3.9h-3.9zM474.51 340.65h3.9v3.9h-3.9zM479.44 340.47h3.9v3.9h-3.9zM484.55 340.28h3.9v3.9h-3.9zM489.83 340.1h3.9v3.9h-3.9zM495.29 339.91h3.9v3.9h-3.9zM500.95 339.71h3.9v3.9h-3.9zM506.81 339.52h3.9v3.9h-3.9zM512.87 339.32h3.9v3.9h-3.9zM519.14 339.11h3.9v3.9h-3.9zM525.63 338.91h3.9v3.9h-3.9zM532.35 338.7h3.9v3.9h-3.9z"/>
<path fill="#ff0000" d="M333.83 349.59a2.15 2.15 0 1 0 4.3 0a2.15 2.15 0 1 0 -4.3 0zM334.29 349.28a2.15 2.15 0 1 0 4.3 0a2.15 2.15 0 1 0 -4.3 0zM334.76 349.04a2.15 2.15 0 1 0 4.3 0a2.15 2.15 0 1 0 -4.3 0zM335.23 348.84a2.15 2.15 0 1 0 4.3 0a2.15 2.15 0 1 0 -4.3 0zM335.72 348.65a2.15 2.15 0 1 0 4.3 0a2.15 2.15 0 1 0 -4.3 0zM336.24 348.47a2.15 2.15 0 1 0 4.3 0a2.15 2.15 0 1 0 -4.3 0zM336.76 348.3a2.15 2.15 0 1 0 4.3 0a2.15 2.15 0 1 0 -4.3 0zM337.25 348.15a2.15 2.15 0 1 0 4.3 0a2.15 2.15 0 1 0 -4.3 0zM337.81 347.99a2.15 2.15 0 1 0 4.3 0a2.15 2.15 0 1 0 -4.3 0zM338.29 347.86a2.15 2.15 0 1 0 4.3 0a2.15 2.15 0 1 0 -4.3 0zM338.81 347.73a2.15 2.15 0 1 0 4.3 0a2.15 2.15 0 1 0 -4.3 0zM339.4 347.58a2.15 2.15 0 1 0 4.3 0a2.15 2.15 0 1 0 -4.3 0zM340.04 347.43a2.15 2.15 0 1 0 4.3 0a2.15 2.15 0 1 0 -4.3 0zM340.51 347.32a2.15 2.15 0 1 0 4.3 0a2.15 2.15 0 1 0 -4.3 0zM341.02 347.21a2.15 2.15 0 1 0 4.3 0a2.15 2.15 0 1 0 -4.3 0zM341.55 347.1a2.15 2.15 0 1 0 4.3 0a2.15 2.15 0 1 0 -4.3 0zM342.13 346.98a2.15 2.15 0 1 0 4.3 0a2.15 2.15 0 1 0 -4.3 0zM342.75 346.85a2.15 2.15 0 1 0 4.3 0a2.15 2.15 0 1 0 -4.3 0zM343.41 346.72a2.15 2.15 0 1 0 4.3 0a2.15 2.15 0 1 0 -4.3 0zM344.12 346.59a2.15 2.15 0 1 0 4.3 0a2.15 2.15 0 1 0 -4.3 0zM344.88 346.45a2.15 2.15 0 1 0 4.3 0a2.15 2.15 0 1 0 -4.3 0zM345.7 346.3a2.15 2.15 0 1 0 4.3 0a2.15 2.15 0 1 0 -4.3 0zM346.57 346.15a2.15 2.15 0 1 0 4.3 0a2.15 2.15 0 1 0 -4.3 0zM347.03 346.07a2.15 2.15 0 1 0 4.3 0a2.15 2.15 0 1 0 -4.3 0zM347.5 345.99a2.15 2.15 0 1 0 4.3 0a2.15 2.15 0 1 0 -4.3 0zM348 345.91a2.15 2.15 0 1 0 4.3 0a2.15 2.15 0 1 0 -4.3 0zM348.5 345.83a2.15 2.15 0 1 0 4.3 0a2.15 2.15 0 1 0 -4.3 0zM349.03 345.74a2.15 2.15 0 1 0 4.3 0a2.15 2.15 0 1 0 -4.3 0zM349.58 345.66a2.15 2.15 0 1 0 4.3 0a2.15 2.15 0 1 0 -4.3 0zM350.14 345.57a2.15 2.15 0 1 0 4.3 0a2.15 2.15 0 1 0 -4.3 0zM350.73 345.48a2.15 2.15 0 1 0 4.3 0a2.15 2.15 0 1 0 -4.3 0zM351.33 345.39a2.15 2.15 0 1 0 4.3 0a2.15 2.15 0 1 0 -4.3 0zM351.96 345.29a2.15 2.15 0 1 0 4.3 0a2.15 2.15 0 1 0 -4.3 0zM352.6 345.2a2.15 2.15 0 1 0 4.3 0a2.15 2.15 0 1 0 -4.3 0zM353.27 345.1a2.15 2.15 0 1 0 4.3 0a2.15 2.15 0 1 0 -4.3 0zM353.97 345a2.15 2.15 0 1 0 4.3 0a2.15 2.15 0 1 0 -4.3 0zM354.69 344.9a2.15 2.15 0 1 0 4.3 0a2.15 2.15 0 1 0 -4.3 0zM355.43 344.8a2.15 2.15 0 1 0 4.3 0a2.15 2.15 0 1 0 -4.3 0zM356.2 344.7a2.15 2.15 0 1 0 4.3 0a2.15 2.15 0 1 0 -4.3 0zM356.99 344.59a2.15 2.15 0 1 0 4.3 0a2.15 2.15 0 1 0 -4.3 0zM357.82 344.48a2.15 2.15 0 1 0 4.3 0a2.15 2.15 0 1 0 -4.3 0zM358.67 344.37a2.15 2.15 0 1 0 4.3 0a2.15 2.15 0 1 0 -4.3 0zM359.55 344.26a2.15 2.15 0 1 0 4.3 0a2.15 2.15 0 1 0 -4.3 0zM360.47 344.14a2.15 2.15 0 1 0 4.3 0a2.15 2.15 0 1 0 -4.3 0zM361.41 344.02a2.15 2.15 0 1 0 4.3 0a2.15 2.15 0 1 0 -4.3 0zM362.39 343.9a2.15 2.15 0 1 0 4.3 0a2.15 2.15 0 1 0 -4.3 0zM363.41 343.78a2.15 2.15 0 1 0 4.3 0a2.15 2.15 0 1 0 -4.3 0zM364.45 343.66a2.15 2.15 0 1 0 4.3 0a2.15 2.15 0 1 0 -4.3 0zM365.54 343.53a2.15 2.15 0 1 0 4.3 0a2.15 2.15 0 1 0 -4.3 0zM366.66 343.4a2.15 2.15 0 1 0 4.3 0a2.15 2.15 0 1 0 -4.3 0zM367.82 343.27a2.15 2.15 0 1 0 4.3 0a2.15 2.15 0 1 0 -4.3 0zM369.03 343.13a2.15 2.15 0 1 0 4.3 0a2.15 2.15 0 1 0 -4.3 0zM370.27 343a2.15 2.15 0 1 0 4.3 0a2.15 2.15 0 1 0 -4.3 0zM371.56 342.86a2.15 2.15 0 1 0 4.3 0a2.15 2.15 0 1 0 -4.3 0zM372.9 342.72a2.15 2.15 0 1 0 4.3 0a2.15 2.15 0 1 0 -4.3 0zM374.28 342.57a2.15 2.15 0 1 0 4.3 0a2.15 2.15 0 1 0 -4.3 0zM375.71 342.42a2.15 2.15 0 1 0 4.3 0a2.15 2.15 0 1 0 -4.3 0zM377.18 342.27a2.15 2.15 0 1 0 4.3 0a2.15 2.15 0 1 0 -4.3 0zM378.72 342.12a2.15 2.15 0 1 0 4.3 0a2.15 2.15 0 1 0 -4.3 0zM380.3 341.96a2.15 2.15 0 1 0 4.3 0a2.15 2.15 0 1 0 -4.3 0zM381.94 341.8a2.15 2.15 0 1 0 4.3 0a2.15 2.15 0 1 0 -4.3 0zM383.64 341.63a2.15 2.15 0 1 0 4.3 0a2.15 2.15 0 1 0 -4.3 0zM385.39 341.47a2.15 2.15 0 1 0 4.3 0a2.15 2.15 0 1 0 -4.3 0zM387.21 341.3a2.15 2.15 0 1 0 4.3 0a2.15 2.15 0 1 0 -4.3 0zM389.09 341.12a2.15 2.15 0 1 0 4.3 0a2.15 2.15 0 1 0 -4.3 0zM391.04 340.95a2.15 2.15 0 1 0 4.3 0a2.15 2.15 0 1 0 -4.3 0zM393.06 340.77a2.15 2.15 0 1 0 4.3 0a2.15 2.15 0 1 0 -4.3 0zM395.14 340.58a2.15 2.15 0 1 0 4.3 0a2.15 2.15 0 1 0 -4.3 0zM397.3 340.4a2.15 2.15 0 1 0 4.3 0a2.15 2.15 0 1 0 -4.3 0zM399.54 340.21a2.15 2.15 0 1 0 4.3 0a2.15 2.15 0 1 0 -4.3 0zM401.85 340.01a2.15 2.15 0 1 0 4.3 0a2.15 2.15 0 1 0 -4.3 0zM404.24 339.81a2.15 2.15 0 1 0 4.3 0a2.15 2.15 0 1 0 -4.3 0zM406.72 339.61a2.15 2.15 0 1 0 4.3 0a2.15 2.15 0 1 0 -4.3 0zM409.28 339.4a2.15 2.15 0 1 0 4.3 0a2.15 2.15 0 1 0 -4.3 0zM411.94 339.19a2.15 2.15 0 1 0 4.3 0a2.15 2.15 0 1 0 -4.3 0zM414.69 338.98a2.15 2.15 0 1 0 4.3 0a2.15 2.15 0 1 0 -4.3 0zM417.53 338.76a2.15 2.15 0 1 0 4.3 0a2.15 2.15 0 1 0 -4.3 0zM420.47 338.54a2.15 2.15 0 1 0 4.3 0a2.15 2.15 0 1 0 -4.3 0zM423.52 338.31a2.15 2.15 0 1 0 4.3 0a2.15 2.15 0 1 0 -4.3 0zM426.67 338.08a2.15 2.15 0 1 0 4.3 0a2.15 2.15 0 1 0 -4.3 0zM429.93 337.84a2.15 2.15 0 1 0 4.3 0a2.15 2.15 0 1 0 -4.3 0zM433.31 337.6a2.15 2.15 0 1 0 4.3 0a2.15 2.15 0 1 0 -4.3 0zM436.8 337.35a2.15 2.15 0 1 0 4.3 0a2.15 2.15 0 1 0 -4.3 0zM440.42 337.1a2.15 2.15 0 1 0 4.3 0a2.15 2.15 0 1 0 -4.3 0zM444.17 336.85a2.15 2.15 0 1 0 4.3 0a2.15 2.15 0 1 0 -4.3 0zM448.04 336.59a2.15 2.15 0 1 0 4.3 0a2.15 2.15 0 1 0 -4.3 0zM452.05 336.32a2.15 2.15 0 1 0 4.3 0a2.15 2.15 0 1 0 -4.3 0zM456.2 336.05a2.15 2.15 0 1 0 4.3 0a2.15 2.15 0 1 0 -4.3 0zM460.5 335.77a2.15 2.15 0 1 0 4.3 0a2.15 2.15 0 1 0 -4.3 0zM464.95 335.49a2.15 2.15 0 1 0 4.3 0a2.15 2.15 0 1 0 -4.3 0zM469.55 335.2a2.15 2.15 0 1 0 4.3 0a2.15 2.15 0 1 0 -4.3 0zM474.31 334.91a2.15 2.15 0 1 0 4.3 0a2.15 2.15 0 1 0 -4.3 0zM479.24 334.61a2.15 2.15 0 1 0 4.3 0a2.15 2.15 0 1 0 -4.3 0zM484.35 334.31a2.15 2.15 0 1 0 4.3 0a2.15 2.15 0 1 0 -4.3 0zM489.63 334a2.15 2.15 0 1 0 4.3 0a2.15 2.15 0 1 0 -4.3 0zM495.09 333.68a2.15 2.15 0 1 0 4.3 0a2.15 2.15 0 1 0 -4.3 0zM500.75 333.36a2.15 2.15 0 1 0 4.3 0a2.15 2.15 0 1 0 -4.3 0zM506.61 333.03a2.15 2.15 0 1 0 4.3 0a2.15 2.15 0 1 0 -4.3 0zM512.67 332.69a2.15 2.15 0 1 0 4.3 0a2.15 2.15 0 1 0 -4.3 0zM518.94 332.35a2.15 2.15 0 1 0 4.3 0a2.15 2.15 0 1 0 -4.3 0zM525.43 332a2.15 2.15 0 1 0 4.3 0a2.15 2.15 0 1 0 -4.3 0zM532.15 331.65a2.15 2.15 0 1 0 4.3 0a2.15 2.15 0 1 0 -4.3 0z"/>
<path fill="#0000ff" d="M335.7 339.2l2.4 4.1h-4.8zM335.78 338.78l2.4 4.1h-4.8zM335.86 338.37l2.4 4.1h-4.8zM335.94 337.95l2.4 4.1h-4.8zM336.02 337.53l2.4 4.1h-4.8zM336.1 337.12l2.4 4.1h-4.8zM335.98 336.85l2.4 4.1h-4.8zM336.44 336.63l2.4 4.1h-4.8zM336.91 336.42l2.4 4.1h-4.8zM337.38 336.23l2.4 4.1h-4.8zM337.87 336.04l2.4 4.1h-4.8zM338.39 335.85l2.4 4.1h-4.8zM338.91 335.67l2.4 4.1h-4.8zM339.4 335.5l2.4 4.1h-4.8zM339.96 335.32l2.4 4.1h-4.8zM340.44 335.17l2.4 4.1h-4.8zM340.96 335.01l2.4 4.1h-4.8zM341.55 334.83l2.4 4.1h-4.8zM342.19 334.64l2.4 4.1h-4.8zM342.66 334.5l2.4 4.1h-4.8zM343.17 334.35l2.4 4.1h-4.8zM343.7 334.2l2.4 4.1h-4.8zM344.28 334.04l2.4 4.1h-4.8zM344.9 333.87l2.4 4.1h-4.8zM345.56 333.69l2.4 4.1h-4.8zM346.27 333.5l2.4 4.1h-4.8zM347.03 333.3l2.4 4.1h-4.8zM347.85 333.08l2.4 4.1h-4.8zM348.72 332.86l2.4 4.1h-4.8zM349.18 332.74l2.4 4.1h-4.8zM349.65 332.63l2.4 4.1h-4.8zM350.15 332.5l2.4 4.1h-4.8zM350.65 332.38l2.4 4.1h-4.8zM351.18 332.25l2.4 4.1h-4.8zM351.73 332.11l2.4 4.1h-4.8zM352.29 331.98l2.4 4.1h-4.8zM352.88 331.84l2.4 4.1h-4.8zM353.48 331.69l2.4 4.1h-4.8zM354.11 331.54l2.4 4.1h-4.8zM354.75 331.39l2.4 4.1h-4.8zM355.42 331.24l2.4 4.1h-4.8zM356.12 331.07l2.4 4.1h-4.8zM356.84 330.91l2.4 4.1h-4.8zM357.58 330.74l2.4 4.1h-4.8zM358.35 330.57l2.4 4.1h-4.8zM359.14 330.39l2.4 4.1h-4.8zM359.97 330.2l2.4 4.1h-4.8zM360.82 330.01l2.4 4.1h-4.8zM361.7 329.82l2.4 4.1h-4.8zM362.62 329.62l2.4 4.1h-4.8zM363.56 329.42l2.4 4.1h-4.8zM364.54 329.21l2.4 4.1h-4.8zM365.56 328.99l2.4 4.1h-4.8zM366.6 328.77l2.4 4.1h-4.8zM367.69 328.54l2.4 4.1h-4.8zM368.81 328.3l2.4 4.1h-4.8zM369.97 328.06l2.4 4.1h-4.8zM371.18 327.82l2.4 4.1h-4.8zM372.42 327.56l2.4 4.1h-4.8zM373.71 327.3l2.4 4.1h-4.8zM375.05 327.03l2.4 4.1h-4.8zM376.43 326.76l2.4 4.1h-4.8zM377.86 326.47l2.4 4.1h-4.8zM379.33 326.18l2.4 4.1h-4.8zM380.87 325.88l2.4 4.1h-4.8zM382.45 325.58l2.4 4.1h-4.8zM384.09 325.26l2.4 4.1h-4.8zM385.79 324.94l2.4 4.1h-4.8zM387.54 324.61l2.4 4.1h-4.8zM389.36 324.26l2.4 4.1h-4.8zM391.24 323.91l2.4 4.1h-4.8zM393.19 323.55l2.4 4.1h-4.8zM395.21 323.18l2.4 4.1h-4.8zM397.29 322.8l2.4 4.1h-4.8zM399.45 322.41l2.4 4.1h-4.8zM401.69 322.01l2.4 4.1h-4.8zM404 321.6l2.4 4.1h-4.8zM406.39 321.17l2.4 4.1h-4.8zM408.87 320.74l2.4 4.1h-4.8zM411.43 320.29l2.4 4.1h-4.8zM414.09 319.83l2.4 4.1h-4.8zM416.84 319.36l2.4 4.1h-4.8zM419.68 318.87l2.4 4.1h-4.8zM422.62 318.37l2.4 4.1h-4.8zM425.67 317.86l2.4 4.1h-4.8zM428.82 317.33l2.4 4.1h-4.8zM432.08 316.79l2.4 4.1h-4.8zM435.46 316.24l2.4 4.1h-4.8zM438.95 315.67l2.4 4.1h-4.8zM442.57 315.08l2.4 4.1h-4.8zM446.32 314.48l2.4 4.1h-4.8zM450.19 313.86l2.4 4.1h-4.8zM454.2 313.22l2.4 4.1h-4.8zM458.35 312.57l2.4 4.1h-4.8zM462.65 311.9l2.4 4.1h-4.8zM467.1 311.21l2.4 4.1h-4.8zM471.7 310.5l2.4 4.1h-4.8zM476.46 309.78l2.4 4.1h-4.8zM481.39 309.03l2.4 4.1h-4.8zM486.5 308.26l2.4 4.1h-4.8zM491.78 307.48l2.4 4.1h-4.8zM497.24 306.67l2.4 4.1h-4.8zM502.9 305.83l2.4 4.1h-4.8zM508.76 304.98l2.4 4.1h-4.8zM514.82 304.1l2.4 4.1h-4.8zM521.09 303.2l2.4 4.1h-4.8zM527.58 302.27l2.4 4.1h-4.8zM534.3 301.32l2.4 4.1h-4.8z"/>
<path fill="#ff00ff" d="M333.58 324.15h4.8l-2.4 4.1zM334.03 323.8h4.8l-2.4 4.1zM334.51 323.49h4.8l-2.4 4.1zM334.98 323.2h4.8l-2.4 4.1zM335.46 322.93h4.8l-2.4 4.1zM335.98 322.64h4.8l-2.4 4.1zM336.51 322.37h4.8l-2.4 4.1zM336.99 322.13h4.8l-2.4 4.1zM337.55 321.86h4.8l-2.4 4.1zM338.03 321.63h4.8l-2.4 4.1zM338.55 321.39h4.8l-2.4 4.1zM339.13 321.13h4.8l-2.4 4.1zM339.78 320.84h4.8l-2.4 4.1zM340.25 320.64h4.8l-2.4 4.1zM340.75 320.43h4.8l-2.4 4.1zM341.28 320.2h4.8l-2.4 4.1zM341.86 319.97h4.8l-2.4 4.1zM342.48 319.72h4.8l-2.4 4.1zM343.14 319.45h4.8l-2.4 4.1zM343.85 319.17h4.8l-2.4 4.1zM344.6 318.88h4.8l-2.4 4.1zM345.42 318.57h4.8l-2.4 4.1zM346.29 318.24h4.8l-2.4 4.1zM346.74 318.08h4.8l-2.4 4.1zM347.22 317.9h4.8l-2.4 4.1zM347.71 317.72h4.8l-2.4 4.1zM348.22 317.54h4.8l-2.4 4.1zM348.74 317.35h4.8l-2.4 4.1zM349.29 317.16h4.8l-2.4 4.1zM349.85 316.96h4.8l-2.4 4.1zM350.43 316.75h4.8l-2.4 4.1zM351.04 316.54h4.8l-2.4 4.1zM351.66 316.33h4.8l-2.4 4.1zM352.31 316.11h4.8l-2.4 4.1zM352.97 315.88h4.8l-2.4 4.1zM353.67 315.65h4.8l-2.4 4.1zM354.38 315.41h4.8l-2.4 4.1zM355.12 315.16h4.8l-2.4 4.1zM355.89 314.91h4.8l-2.4 4.1zM356.69 314.65h4.8l-2.4 4.1zM357.51 314.38h4.8l-2.4 4.1zM358.36 314.11h4.8l-2.4 4.1zM359.24 313.83h4.8l-2.4 4.1zM360.15 313.54h4.8l-2.4 4.1zM361.09 313.24h4.8l-2.4 4.1zM362.07 312.94h4.8l-2.4 4.1zM363.08 312.63h4.8l-2.4 4.1zM364.13 312.31h4.8l-2.4 4.1zM365.21 311.98h4.8l-2.4 4.1zM366.33 311.64h4.8l-2.4 4.1zM367.49 311.29h4.8l-2.4 4.1zM368.69 310.94h4.8l-2.4 4.1zM369.93 310.57h4.8l-2.4 4.1zM371.22 310.19h4.8l-2.4 4.1zM372.55 309.81h4.8l-2.4 4.1zM373.92 309.41h4.8l-2.4 4.1zM375.35 309h4.8l-2.4 4.1zM376.82 308.59h4.8l-2.4 4.1zM378.35 308.16h4.8l-2.4 4.1zM379.93 307.72h4.8l-2.4 4.1zM381.57 307.26h4.8l-2.4 4.1zM383.26 306.8h4.8l-2.4 4.1zM385.01 306.32h4.8l-2.4 4.1zM386.83 305.83h4.8l-2.4 4.1zM388.7 305.33h4.8l-2.4 4.1zM390.64 304.81h4.8l-2.4 4.1zM392.66 304.28h4.8l-2.4 4.1zM394.74 303.74h4.8l-2.4 4.1zM396.89 303.18h4.8l-2.4 4.1zM399.12 302.6h4.8l-2.4 4.1zM401.43 302.01h4.8l-2.4 4.1zM403.81 301.41h4.8l-2.4 4.1zM406.29 300.78h4.8l-2.4 4.1zM408.84 300.14h4.8l-2.4 4.1zM411.49 299.49h4.8l-2.4 4.1zM414.23 298.81h4.8l-2.4 4.1zM417.07 298.12h4.8l-2.4 4.1zM420 297.41h4.8l-2.4 4.1zM423.04 296.68h4.8l-2.4 4.1zM426.19 295.93h4.8l-2.4 4.1zM429.44 295.16h4.8l-2.4 4.1zM432.81 294.37h4.8l-2.4 4.1zM436.29 293.56h4.8l-2.4 4.1zM439.9 292.73h4.8l-2.4 4.1zM443.64 291.88h4.8l-2.4 4.1zM447.5 291h4.8l-2.4 4.1zM451.5 290.09h4.8l-2.4 4.1zM455.64 289.17h4.8l-2.4 4.1zM459.93 288.22h4.8l-2.4 4.1zM464.37 287.24h4.8l-2.4 4.1zM468.96 286.24h4.8l-2.4 4.1zM473.71 285.21h4.8l-2.4 4.1zM478.63 284.15h4.8l-2.4 4.1zM483.72 283.06h4.8l-2.4 4.1zM488.98 281.95h4.8l-2.4 4.1zM494.44 280.8h4.8l-2.4 4.1zM500.08 279.63h4.8l-2.4 4.1zM505.92 278.42h4.8l-2.4 4.1zM511.97 277.18h4.8l-2.4 4.1zM518.22 275.91h4.8l-2.4 4.1zM524.7 274.6h4.8l-2.4 4.1zM531.4 273.26h4.8l-2.4 4.1z"/>
<path fill="#008000" d="M335.64 298.38l2.5 2.5-2.5 2.5-2.5-2.5zM335.76 297.93l2.5 2.5-2.5 2.5-2.5-2.5zM335.93 297.47l2.5 2.5-2.5 2.5-2.5-2.5zM336.15 297.01l2.5 2.5-2.5 2.5-2.5-2.5zM336.44 296.53l2.5 2.5-2.5 2.5-2.5-2.5zM336.74 296.08l2.5 2.5-2.5 2.5-2.5-2.5zM337.1 295.6l2.5 2.5-2.5 2.5-2.5-2.5zM337.51 295.11l2.5 2.5-2.5 2.5-2.5-2.5zM337.95 294.63l2.5 2.5-2.5 2.5-2.5-2.5zM338.39 294.18l2.5 2.5-2.5 2.5-2.5-2.5zM338.91 293.68l2.5 2.5-2.5 2.5-2.5-2.5zM339.4 293.24l2.5 2.5-2.5 2.5-2.5-2.5zM339.96 292.76l2.5 2.5-2.5 2.5-2.5-2.5zM340.44 292.38l2.5 2.5-2.5 2.5-2.5-2.5zM340.96 291.97l2.5 2.5-2.5 2.5-2.5-2.5zM341.55 291.53l2.5 2.5-2.5 2.5-2.5-2.5zM342.19 291.06l2.5 2.5-2.5 2.5-2.5-2.5zM342.66 290.74l2.5 2.5-2.5 2.5-2.5-2.5zM343.17 290.4l2.5 2.5-2.5 2.5-2.5-2.5zM343.7 290.04l2.5 2.5-2.5 2.5-2.5-2.5zM344.28 289.67l2.5 2.5-2.5 2.5-2.5-2.5zM344.9 289.28l2.5 2.5-2.5 2.5-2.5-2.5zM345.56 288.88l2.5 2.5-2.5 2.5-2.5-2.5zM346.27 288.46l2.5 2.5-2.5 2.5-2.5-2.5zM347.03 288.02l2.5 2.5-2.5 2.5-2.5-2.5zM347.85 287.56l2.5 2.5-2.5 2.5-2.5-2.5zM348.72 287.09l2.5 2.5-2.5 2.5-2.5-2.5zM349.18 286.84l2.5 2.5-2.5 2.5-2.5-2.5zM349.65 286.59l2.5 2.5-2.5 2.5-2.5-2.5zM350.15 286.33l2.5 2.5-2.5 2.5-2.5-2.5zM350.65 286.07l2.5 2.5-2.5 2.5-2.5-2.5zM351.18 285.8l2.5 2.5-2.5 2.5-2.5-2.5zM351.73 285.53l2.5 2.5-2.5 2.5-2.5-2.5zM352.29 285.25l2.5 2.5-2.5 2.5-2.5-2.5zM352.88 284.96l2.5 2.5-2.5 2.5-2.5-2.5zM353.48 284.67l2.5 2.5-2.5 2.5-2.5-2.5zM354.11 284.38l2.5 2.5-2.5 2.5-2.5-2.5zM354.75 284.07l2.5 2.5-2.5 2.5-2.5-2.5zM355.42 283.76l2.5 2.5-2.5 2.5-2.5-2.5zM356.12 283.45l2.5 2.5-2.5 2.5-2.5-2.5zM356.84 283.12l2.5 2.5-2.5 2.5-2.5-2.5zM357.58 282.79l2.5 2.5-2.5 2.5-2.5-2.5zM358.35 282.46l2.5 2.5-2.5 2.5-2.5-2.5zM359.14 282.11l2.5 2.5-2.5 2.5-2.5-2.5zM359.97 281.76l2.5 2.5-2.5 2.5-2.5-2.5zM360.82 281.4l2.5 2.5-2.5 2.5-2.5-2.5zM361.7 281.04l2.5 2.5-2.5 2.5-2.5-2.5zM362.62 280.66l2.5 2.5-2.5 2.5-2.5-2.5zM363.56 280.28l2.5 2.5-2.5 2.5-2.5-2.5zM364.54 279.89l2.5 2.5-2.5 2.5-2.5-2.5zM365.56 279.49l2.5 2.5-2.5 2.5-2.5-2.5zM366.6 279.08l2.5 2.5-2.5 2.5-2.5-2.5zM367.69 278.67l2.5 2.5-2.5 2.5-2.5-2.5zM368.81 278.24l2.5 2.5-2.5 2.5-2.5-2.5zM369.97 277.81l2.5 2.5-2.5 2.5-2.5-2.5zM371.18 277.37l2.5 2.5-2.5 2.5-2.5-2.5zM372.42 276.92l2.5 2.5-2.5 2.5-2.5-2.5zM373.71 276.46l2.5 2.5-2.5 2.5-2.5-2.5zM375.05 275.98l2.5 2.5-2.5 2.5-2.5-2.5zM376.43 275.5l2.5 2.5-2.5 2.5-2.5-2.5zM377.86 275.01l2.5 2.5-2.5 2.5-2.5-2.5zM379.33 274.51l2.5 2.5-2.5 2.5-2.5-2.5zM380.87 274l2.5 2.5-2.5 2.5-2.5-2.5zM382.45 273.47l2.5 2.5-2.5 2.5-2.5-2.5zM384.09 272.94l2.5 2.5-2.5 2.5-2.5-2.5zM385.79 272.39l2.5 2.5-2.5 2.5-2.5-2.5zM387.54 271.84l2.5 2.5-2.5 2.5-2.5-2.5zM389.36 271.27l2.5 2.5-2.5 2.5-2.5-2.5zM391.24 270.69l2.5 2.5-2.5 2.5-2.5-2.5zM393.19 270.09l2.5 2.5-2.5 2.5-2.5-2.5zM395.21 269.49l2.5 2.5-2.5 2.5-2.5-2.5zM397.29 268.87l2.5 2.5-2.5 2.5-2.5-2.5zM399.45 268.24l2.5 2.5-2.5 2.5-2.5-2.5zM401.69 267.59l2.5 2.5-2.5 2.5-2.5-2.5zM404 266.93l2.5 2.5-2.5 2.5-2.5-2.5zM406.39 266.26l2.5 2.5-2.5 2.5-2.5-2.5zM408.87 265.57l2.5 2.5-2.5 2.5-2.5-2.5zM411.43 264.87l2.5 2.5-2.5 2.5-2.5-2.5zM414.09 264.16l2.5 2.5-2.5 2.5-2.5-2.5zM416.84 263.42l2.5 2.5-2.5 2.5-2.5-2.5zM419.68 262.68l2.5 2.5-2.5 2.5-2.5-2.5zM422.62 261.91l2.5 2.5-2.5 2.5-2.5-2.5zM425.67 261.14l2.5 2.5-2.5 2.5-2.5-2.5zM428.82 260.34l2.5 2.5-2.5 2.5-2.5-2.5zM432.08 259.53l2.5 2.5-2.5 2.5-2.5-2.5zM435.46 258.7l2.5 2.5-2.5 2.5-2.5-2.5zM438.95 257.85l2.5 2.5-2.5 2.5-2.5-2.5zM442.57 256.99l2.5 2.5-2.5 2.5-2.5-2.5zM446.32 256.1l2.5 2.5-2.5 2.5-2.5-2.5zM450.19 255.2l2.5 2.5-2.5 2.5-2.5-2.5zM454.2 254.28l2.5 2.5-2.5 2.5-2.5-2.5zM458.35 253.34l2.5 2.5-2.5 2.5-2.5-2.5zM462.65 252.38l2.5 2.5-2.5 2.5-2.5-2.5zM467.1 251.4l2.5 2.5-2.5 2.5-2.5-2.5zM471.7 250.39l2.5 2.5-2.5 2.5-2.5-2.5zM476.46 249.37l2.5 2.5-2.5 2.5-2.5-2.5zM481.39 248.33l2.5 2.5-2.5 2.5-2.5-2.5zM486.5 247.26l2.5 2.5-2.5 2.5-2.5-2.5zM491.78 246.17l2.5 2.5-2.5 2.5-2.5-2.5zM497.24 245.06l2.5 2.5-2.5 2.5-2.5-2.5zM502.9 243.92l2.5 2.5-2.5 2.5-2.5-2.5zM508.76 242.76l2.5 2.5-2.5 2.5-2.5-2.5zM514.82 241.58l2.5 2.5-2.5 2.5-2.5-2.5zM521.09 240.37l2.5 2.5-2.5 2.5-2.5-2.5zM527.58 239.13l2.5 2.5-2.5 2.5-2.5-2.5zM534.3 237.87l2.5 2.5-2.5 2.5-2.5-2.5z"/>
<path fill="#000080" d="M333.07 270.9l4-2.3v4.6zM333.1 270.42l4-2.3v4.6zM333.13 269.92l4-2.3v4.6zM333.16 269.47l4-2.3v4.6zM333.19 268.97l4-2.3v4.6zM333.23 268.46l4-2.3v4.6zM333.3 268.01l4-2.3v4.6zM333.47 267.54l4-2.3v4.6zM333.81 267.08l4-2.3v4.6zM334.26 266.7l4-2.3v4.6zM334.72 266.42l4-2.3v4.6zM335.19 266.15l4-2.3v4.6zM335.7 265.77l4-2.3v4.6zM336.2 265.36l4-2.3v4.6zM336.67 264.96l4-2.3v4.6zM337.22 264.47l4-2.3v4.6zM337.67 264.03l4-2.3v4.6zM338.18 263.51l4-2.3v4.6zM338.75 262.88l4-2.3v4.6zM339.15 262.41l4-2.3v4.6zM339.59 261.89l4-2.3v4.6zM340.06 261.33l4-2.3v4.6zM340.57 260.73l4-2.3v4.6zM341.1 260.1l4-2.3v4.6zM341.68 259.46l4-2.3v4.6zM342.3 258.83l4-2.3v4.6zM342.96 258.2l4-2.3v4.6zM343.67 257.56l4-2.3v4.6zM344.43 256.89l4-2.3v4.6zM345.25 256.21l4-2.3v4.6zM346.12 255.51l4-2.3v4.6zM346.58 255.16l4-2.3v4.6zM347.05 254.8l4-2.3v4.6zM347.55 254.43l4-2.3v4.6zM348.05 254.06l4-2.3v4.6zM348.58 253.68l4-2.3v4.6zM349.13 253.3l4-2.3v4.6zM349.69 252.9l4-2.3v4.6zM350.28 252.51l4-2.3v4.6zM350.88 252.1l4-2.3v4.6zM351.51 251.69l4-2.3v4.6zM352.15 251.27l4-2.3v4.6zM352.82 250.84l4-2.3v4.6zM353.52 250.4l4-2.3v4.6zM354.24 249.96l4-2.3v4.6zM354.98 249.51l4-2.3v4.6zM355.75 249.06l4-2.3v4.6zM356.54 248.59l4-2.3v4.6zM357.37 248.12l4-2.3v4.6zM358.22 247.64l4-2.3v4.6zM359.1 247.15l4-2.3v4.6zM360.02 246.66l4-2.3v4.6zM360.96 246.16l4-2.3v4.6zM361.94 245.66l4-2.3v4.6zM362.96 245.15l4-2.3v4.6zM364 244.63l4-2.3v4.6zM365.09 244.1l4-2.3v4.6zM366.21 243.56l4-2.3v4.6zM367.37 243.01l4-2.3v4.6zM368.58 242.45l4-2.3v4.6zM369.82 241.88l4-2.3v4.6zM371.11 241.31l4-2.3v4.6zM372.45 240.72l4-2.3v4.6zM373.83 240.13l4-2.3v4.6zM375.26 239.53l4-2.3v4.6zM376.73 238.93l4-2.3v4.6zM378.27 238.32l4-2.3v4.6zM379.85 237.69l4-2.3v4.6zM381.49 237.06l4-2.3v4.6zM383.19 236.41l4-2.3v4.6zM384.94 235.75l4-2.3v4.6zM386.76 235.08l4-2.3v4.6zM388.64 234.4l4-2.3v4.6zM390.59 233.7l4-2.3v4.6zM392.61 233l4-2.3v4.6zM394.69 232.28l4-2.3v4.6zM396.85 231.55l4-2.3v4.6zM399.09 230.81l4-2.3v4.6zM401.4 230.06l4-2.3v4.6zM403.79 229.3l4-2.3v4.6zM406.27 228.53l4-2.3v4.6zM408.83 227.75l4-2.3v4.6zM411.49 226.96l4-2.3v4.6zM414.24 226.15l4-2.3v4.6zM417.08 225.33l4-2.3v4.6zM420.02 224.5l4-2.3v4.6zM423.07 223.65l4-2.3v4.6zM426.22 222.79l4-2.3v4.6zM429.48 221.92l4-2.3v4.6zM432.86 221.04l4-2.3v4.6zM436.35 220.14l4-2.3v4.6zM439.97 219.22l4-2.3v4.6zM443.72 218.29l4-2.3v4.6zM447.59 217.35l4-2.3v4.6zM451.6 216.4l4-2.3v4.6zM455.75 215.42l4-2.3v4.6zM460.05 214.43l4-2.3v4.6zM464.5 213.43l4-2.3v4.6zM469.1 212.41l4-2.3v4.6zM473.86 211.37l4-2.3v4.6zM478.79 210.32l4-2.3v4.6zM483.9 209.25l4-2.3v4.6zM489.18 208.17l4-2.3v4.6zM494.64 207.07l4-2.3v4.6zM500.3 205.95l4-2.3v4.6zM506.16 204.81l4-2.3v4.6zM512.22 203.65l4-2.3v4.6zM518.49 202.48l4-2.3v4.6zM524.98 201.29l4-2.3v4.6zM531.7 200.08l4-2.3v4.6z"/></g>
<rect x="477.2" y="206.0" width="61.8" height="66.0" fill="#fff"/>
<rect x="331.6" y="205.5" width="208.4" height="153.3" fill="none" stroke="#2a2a2a" stroke-width="1.3"/>
<path d="M335.6 358.8v3.2M335.6 205.5v-3.2M396.9 358.8v3.2M396.9 205.5v-3.2M458.1 358.8v3.2M458.1 205.5v-3.2M519.4 358.8v3.2M519.4 205.5v-3.2M366.2 358.8v1.8M366.2 205.5v-1.8M427.5 358.8v1.8M427.5 205.5v-1.8M488.8 358.8v1.8M488.8 205.5v-1.8M331.6 356.0h-3.2M540.0 356.0h3.2M331.6 318.4h-3.2M540.0 318.4h3.2M331.6 280.8h-3.2M540.0 280.8h3.2M331.6 243.1h-3.2M540.0 243.1h3.2M331.6 205.5h-3.2M540.0 205.5h3.2M331.6 337.2h-1.8M540.0 337.2h1.8M331.6 299.6h-1.8M540.0 299.6h1.8M331.6 261.9h-1.8M540.0 261.9h1.8M331.6 224.3h-1.8M540.0 224.3h1.8" stroke="#2a2a2a" stroke-width="1.1" fill="none"/>
<g font-family='"Liberation Sans", sans-serif' font-size="10" fill="#1e1e1e" stroke="#1e1e1e" stroke-width="0.15"><text transform="translate(326.70 359.20) scale(1.045 1)" text-anchor="end">0.0</text><text transform="translate(326.60 322.57) scale(1.045 1)" text-anchor="end">5.0x10<tspan dy="-4.8" font-size="6.4">2</tspan></text><text transform="translate(326.60 284.95) scale(1.045 1)" text-anchor="end">1.0x10<tspan dy="-4.8" font-size="6.4">3</tspan></text><text transform="translate(326.60 247.32) scale(1.045 1)" text-anchor="end">1.5x10<tspan dy="-4.8" font-size="6.4">3</tspan></text><text transform="translate(326.60 209.70) scale(1.045 1)" text-anchor="end">2.0x10<tspan dy="-4.8" font-size="6.4">3</tspan></text><text transform="translate(335.60 372.50) scale(1.045 1)" text-anchor="middle">0.0</text><text transform="translate(396.87 374.10) scale(1.045 1)" text-anchor="middle">3.0x10<tspan dy="-4.8" font-size="6.4">5</tspan></text><text transform="translate(458.13 374.10) scale(1.045 1)" text-anchor="middle">6.0x10<tspan dy="-4.8" font-size="6.4">5</tspan></text><text transform="translate(519.40 374.10) scale(1.045 1)" text-anchor="middle">9.0x10<tspan dy="-4.8" font-size="6.4">5</tspan></text></g>
<g font-family='"Liberation Sans", sans-serif' font-size="9.6" fill="#1e1e1e" stroke="#1e1e1e" stroke-width="0.15"><text transform="translate(277.80 386.70) scale(1.045 1)" text-anchor="start">(d)</text></g>
<g font-family='"Liberation Serif", serif' font-size="10" fill="#1e1e1e" stroke="#1e1e1e" stroke-width="0.2"><text transform="translate(423.80 385.40) scale(1.000 1)" text-anchor="start"><tspan font-style="italic">f</tspan>,<tspan dx="1.3" font-size="10.6"> (Hz)</tspan></text></g>
<g transform="translate(287.3 307.9) rotate(-90)" font-family='"Liberation Serif", serif' font-size="10" fill="#1e1e1e" stroke="#1e1e1e" stroke-width="0.1"><text x="0" y="0">10</text><text x="10.2" y="-4.0" font-size="6.6">6</text><text x="15.5" y="0" font-style="italic">x</text><text x="24.2" y="0" font-size="11.5">&#963;</text><text x="30.0" y="0">&#8242;</text><text x="33.4" y="0">,</text><text x="38.2" y="0" textLength="34.4" lengthAdjust="spacingAndGlyphs">(1/&#937; m)</text></g>
<g font-family='"Liberation Sans", sans-serif' font-size="9" fill="#1e1e1e" stroke="#1e1e1e" stroke-width="0.15"><path fill="#000000" stroke="none" d="M486.96 210.16h4.29v4.29h-4.29z"/><text transform="translate(501.50 215.40) scale(1.000 1)" text-anchor="start"><tspan font-family='"Liberation Serif", serif' font-style="italic" font-size="9.0" stroke="none">B</tspan> = 0.0 T</text><path fill="#ff0000" stroke="none" d="M486.74 223.3a2.37 2.37 0 1 0 4.73 0a2.37 2.37 0 1 0 -4.73 0z"/><text transform="translate(501.50 226.40) scale(1.000 1)" text-anchor="start"><tspan font-family='"Liberation Serif", serif' font-style="italic" font-size="9.0" stroke="none">B</tspan> = 0.1 T</text><path fill="#0000ff" stroke="none" d="M489.1 231.14l2.64 4.51h-5.28z"/><text transform="translate(501.50 237.10) scale(1.000 1)" text-anchor="start"><tspan font-family='"Liberation Serif", serif' font-style="italic" font-size="9.0" stroke="none">B</tspan> = 0.2 T</text><path fill="#ff00ff" stroke="none" d="M486.46 243.45h5.28l-2.64 4.51z"/><text transform="translate(501.50 248.20) scale(1.000 1)" text-anchor="start"><tspan font-family='"Liberation Serif", serif' font-style="italic" font-size="9.0" stroke="none">B</tspan> = 0.3 T</text><path fill="#008000" stroke="none" d="M489.1 253.85l2.75 2.75-2.75 2.75-2.75-2.75z"/><text transform="translate(501.50 259.70) scale(1.000 1)" text-anchor="start"><tspan font-family='"Liberation Serif", serif' font-style="italic" font-size="9.0" stroke="none">B</tspan> = 0.4 T</text><path fill="#000080" stroke="none" d="M486.24 267.6l4.4-2.53v5.06z"/><text transform="translate(501.50 270.70) scale(1.000 1)" text-anchor="start"><tspan font-family='"Liberation Serif", serif' font-style="italic" font-size="9.0" stroke="none">B</tspan> = 0.5 T</text></g>
</svg>
</body></html>
